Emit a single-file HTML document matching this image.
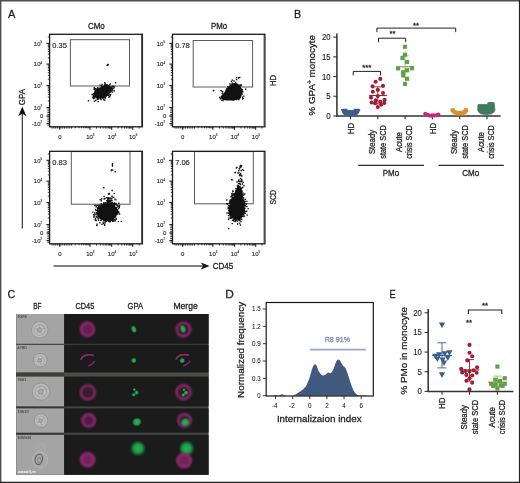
<!DOCTYPE html>
<html><head><meta charset="utf-8"><title>Figure</title>
<style>
html,body{margin:0;padding:0;background:#fff;}
body{width:520px;height:483px;overflow:hidden;}
svg{display:block;font-family:"Liberation Sans",sans-serif;}
text{fill:#231f20;stroke:#231f20;stroke-width:.28px;}
</style></head><body>
<svg width="520" height="483" viewBox="0 0 520 483">
<rect x="0" y="0" width="520" height="483" fill="#fff"/>
<text x="8.0" y="18.1" font-size="11.7" textLength="7.4" lengthAdjust="spacingAndGlyphs">A</text>
<text x="96.3" y="28.7" font-size="8.2" text-anchor="middle" textLength="16.8" lengthAdjust="spacingAndGlyphs">CMo</text>
<text x="219.0" y="28.7" font-size="8.2" text-anchor="middle" textLength="16.2" lengthAdjust="spacingAndGlyphs">PMo</text>
<line x1="46.40" y1="43.30" x2="49.60" y2="43.30" stroke="#111" stroke-width="1"/>
<text x="42.1" y="45.6" font-size="6.0" text-anchor="end" style="stroke-width:.12px">10<tspan font-size="2.9" dy="-2.7">5</tspan></text>
<line x1="46.40" y1="64.10" x2="49.60" y2="64.10" stroke="#111" stroke-width="1"/>
<text x="42.1" y="66.4" font-size="6.0" text-anchor="end" style="stroke-width:.12px">10<tspan font-size="2.9" dy="-2.7">4</tspan></text>
<line x1="46.40" y1="85.60" x2="49.60" y2="85.60" stroke="#111" stroke-width="1"/>
<text x="42.1" y="87.9" font-size="6.0" text-anchor="end" style="stroke-width:.12px">10<tspan font-size="2.9" dy="-2.7">3</tspan></text>
<line x1="46.40" y1="107.60" x2="49.60" y2="107.60" stroke="#111" stroke-width="1"/>
<text x="42.1" y="109.9" font-size="6.0" text-anchor="end" style="stroke-width:.12px">10<tspan font-size="2.9" dy="-2.7">2</tspan></text>
<line x1="46.40" y1="116.00" x2="49.60" y2="116.00" stroke="#111" stroke-width="1"/>
<text x="43.4" y="118.3" font-size="6.0" text-anchor="end" style="stroke-width:.12px">0</text>
<line x1="46.40" y1="123.70" x2="49.60" y2="123.70" stroke="#111" stroke-width="1"/>
<text x="42.1" y="126.0" font-size="6.0" text-anchor="end" style="stroke-width:.12px">-10<tspan font-size="2.9" dy="-2.7">2</tspan></text>
<line x1="59.80" y1="126.80" x2="59.80" y2="129.80" stroke="#111" stroke-width="1"/>
<text x="59.8" y="139.0" font-size="6.0" text-anchor="middle" style="stroke-width:.12px">0</text>
<line x1="90.00" y1="126.80" x2="90.00" y2="129.80" stroke="#111" stroke-width="1"/>
<text x="90.3" y="139.0" font-size="6.0" text-anchor="middle" style="stroke-width:.12px">10<tspan font-size="2.9" dy="-2.7">3</tspan></text>
<line x1="111.70" y1="126.80" x2="111.70" y2="129.80" stroke="#111" stroke-width="1"/>
<text x="112.0" y="139.0" font-size="6.0" text-anchor="middle" style="stroke-width:.12px">10<tspan font-size="2.9" dy="-2.7">4</tspan></text>
<line x1="132.80" y1="126.80" x2="132.80" y2="129.80" stroke="#111" stroke-width="1"/>
<text x="133.1" y="139.0" font-size="6.0" text-anchor="middle" style="stroke-width:.12px">10<tspan font-size="2.9" dy="-2.7">5</tspan></text>
<path d="M47.8 57.84h1.8M47.8 54.18h1.8M47.8 51.58h1.8M47.8 49.56h1.8M47.8 47.91h1.8M47.8 46.52h1.8M47.8 45.32h1.8M47.8 44.25h1.8M47.8 79.13h1.8M47.8 75.34h1.8M47.8 72.66h1.8M47.8 70.57h1.8M47.8 68.87h1.8M47.8 67.43h1.8M47.8 66.18h1.8M47.8 65.08h1.8M47.8 100.98h1.8M47.8 97.10h1.8M47.8 94.35h1.8M47.8 92.22h1.8M47.8 90.48h1.8M47.8 89.01h1.8M47.8 87.73h1.8M47.8 86.61h1.8M47.8 37.04h1.8M47.3 109.00h2.3M47.3 110.80h2.3M47.3 112.60h2.3M47.3 114.40h2.3M47.3 116.20h2.3M47.3 118.00h2.3M47.3 119.80h2.3M47.3 121.60h2.3M47.3 123.40h2.3M47.3 125.20h2.3M96.53 126.8v1.8M100.35 126.8v1.8M103.06 126.8v1.8M105.17 126.8v1.8M106.89 126.8v1.8M108.34 126.8v1.8M109.60 126.8v1.8M110.71 126.8v1.8M118.05 126.8v1.8M121.77 126.8v1.8M124.40 126.8v1.8M126.45 126.8v1.8M128.12 126.8v1.8M129.53 126.8v1.8M130.76 126.8v1.8M131.83 126.8v1.8M139.12 126.8v1.8M52.10 126.8v1.8M53.87 126.8v1.8M55.65 126.8v1.8M57.42 126.8v1.8M59.19 126.8v1.8M60.96 126.8v1.8M62.74 126.8v1.8M64.51 126.8v1.8M66.28 126.8v1.8M68.05 126.8v1.8M69.83 126.8v1.8M71.60 126.8v1.8M75.32 126.8v1.5M79.02 126.8v1.5M81.64 126.8v1.5M83.68 126.8v1.5M85.34 126.8v1.5M86.75 126.8v1.5M87.96 126.8v1.5M89.04 126.8v1.5" stroke="#111" stroke-width="0.8" fill="none"/>
<rect x="70.4" y="39.7" width="59.1" height="46.3" fill="none" stroke="#5a5a5a" stroke-width="1"/>
<rect x="49.6" y="34.3" width="92.8" height="92.5" fill="none" stroke="#1a1a1a" stroke-width="1.3"/>
<line x1="141.70" y1="34.90" x2="141.70" y2="126.20" stroke="#4a4a4a" stroke-width="1.2"/>
<text x="52.300000000000004" y="47.599999999999994" font-size="8.0" textLength="14.6" lengthAdjust="spacingAndGlyphs" style="stroke-width:0.15px">0.35</text>
<ellipse cx="103.3" cy="92.0" rx="9.0" ry="5.0" transform="rotate(-27 103.3 92.0)" fill="#111"/>
<path d="M109.8 94.2h1.35v1.35h-1.35zM96.9 88.3h1.35v1.35h-1.35zM93.8 91.9h1.35v1.35h-1.35zM97.2 88.4h1.35v1.35h-1.35zM97.4 97.6h1.35v1.35h-1.35zM102.3 86.3h1.35v1.35h-1.35zM102.9 96.9h1.35v1.35h-1.35zM107.8 85.0h1.35v1.35h-1.35zM105.2 85.0h1.35v1.35h-1.35zM99.2 87.6h1.35v1.35h-1.35zM94.7 88.1h1.35v1.35h-1.35zM109.4 86.2h1.35v1.35h-1.35zM104.9 96.2h1.35v1.35h-1.35zM99.8 87.7h1.35v1.35h-1.35zM93.6 87.1h1.35v1.35h-1.35zM110.0 93.7h1.35v1.35h-1.35zM110.4 87.2h1.35v1.35h-1.35zM98.6 97.0h1.35v1.35h-1.35zM104.4 82.8h1.35v1.35h-1.35zM111.8 85.7h1.35v1.35h-1.35zM104.1 97.0h1.35v1.35h-1.35zM93.2 92.9h1.35v1.35h-1.35zM98.6 97.1h1.35v1.35h-1.35zM95.6 95.5h1.35v1.35h-1.35zM102.4 85.7h1.35v1.35h-1.35zM111.1 89.5h1.35v1.35h-1.35zM110.7 87.7h1.35v1.35h-1.35zM106.6 94.2h1.35v1.35h-1.35zM108.0 96.4h1.35v1.35h-1.35zM99.7 98.0h1.35v1.35h-1.35zM108.1 85.7h1.35v1.35h-1.35zM92.7 93.5h1.35v1.35h-1.35zM93.5 87.5h1.35v1.35h-1.35zM110.2 90.9h1.35v1.35h-1.35zM109.3 94.6h1.35v1.35h-1.35zM96.8 97.9h1.35v1.35h-1.35zM103.1 85.9h1.35v1.35h-1.35zM110.0 87.2h1.35v1.35h-1.35zM96.0 89.4h1.35v1.35h-1.35zM96.9 97.8h1.35v1.35h-1.35zM105.3 95.2h1.35v1.35h-1.35zM97.0 87.0h1.35v1.35h-1.35zM94.7 90.6h1.35v1.35h-1.35zM114.9 82.1h1.35v1.35h-1.35zM100.4 99.0h1.35v1.35h-1.35zM94.6 92.5h1.35v1.35h-1.35zM95.5 88.3h1.35v1.35h-1.35zM107.0 85.0h1.35v1.35h-1.35zM113.4 85.7h1.35v1.35h-1.35zM112.1 85.6h1.35v1.35h-1.35zM92.8 97.9h1.35v1.35h-1.35zM103.6 84.7h1.35v1.35h-1.35zM105.5 95.4h1.35v1.35h-1.35zM92.4 97.2h1.35v1.35h-1.35zM93.9 97.3h1.35v1.35h-1.35zM106.7 94.5h1.35v1.35h-1.35zM109.4 91.7h1.35v1.35h-1.35zM94.7 96.2h1.35v1.35h-1.35zM98.5 87.6h1.35v1.35h-1.35zM102.1 97.3h1.35v1.35h-1.35zM99.8 97.7h1.35v1.35h-1.35zM93.5 95.5h1.35v1.35h-1.35zM101.0 85.0h1.35v1.35h-1.35zM97.5 88.9h1.35v1.35h-1.35zM104.2 85.6h1.35v1.35h-1.35zM94.7 89.7h1.35v1.35h-1.35zM94.4 90.7h1.35v1.35h-1.35zM111.3 88.5h1.35v1.35h-1.35zM94.9 89.7h1.35v1.35h-1.35zM104.1 82.0h1.35v1.35h-1.35zM106.9 84.2h1.35v1.35h-1.35zM94.7 93.5h1.35v1.35h-1.35zM109.6 83.2h1.35v1.35h-1.35zM107.6 94.7h1.35v1.35h-1.35zM95.0 99.8h1.35v1.35h-1.35zM107.3 85.6h1.35v1.35h-1.35zM95.6 92.0h1.35v1.35h-1.35zM98.1 97.0h1.35v1.35h-1.35zM96.1 90.3h1.35v1.35h-1.35zM94.6 95.0h1.35v1.35h-1.35zM97.2 89.8h1.35v1.35h-1.35zM95.8 89.7h1.35v1.35h-1.35zM109.3 94.2h1.35v1.35h-1.35zM101.4 83.7h1.35v1.35h-1.35zM105.9 94.7h1.35v1.35h-1.35zM107.2 84.8h1.35v1.35h-1.35zM100.3 97.3h1.35v1.35h-1.35zM95.1 95.6h1.35v1.35h-1.35zM108.1 93.1h1.35v1.35h-1.35zM94.3 90.6h1.35v1.35h-1.35zM95.1 93.3h1.35v1.35h-1.35zM91.4 93.8h1.35v1.35h-1.35zM112.2 89.2h1.35v1.35h-1.35zM111.7 91.4h1.35v1.35h-1.35zM97.9 96.8h1.35v1.35h-1.35zM104.7 97.3h1.35v1.35h-1.35zM111.2 87.5h1.35v1.35h-1.35zM93.9 93.7h1.35v1.35h-1.35zM112.0 87.4h1.35v1.35h-1.35zM92.8 95.1h1.35v1.35h-1.35zM94.3 96.6h1.35v1.35h-1.35zM96.4 89.5h1.35v1.35h-1.35zM96.4 90.3h1.35v1.35h-1.35zM95.1 94.3h1.35v1.35h-1.35zM106.2 85.8h1.35v1.35h-1.35zM101.3 97.1h1.35v1.35h-1.35zM106.4 84.4h1.35v1.35h-1.35zM113.5 90.5h1.35v1.35h-1.35zM109.8 86.6h1.35v1.35h-1.35zM111.2 89.5h1.35v1.35h-1.35zM98.9 97.3h1.35v1.35h-1.35zM102.0 86.1h1.35v1.35h-1.35zM94.5 92.2h1.35v1.35h-1.35zM102.9 98.8h1.35v1.35h-1.35zM96.4 96.4h1.35v1.35h-1.35zM105.4 84.3h1.35v1.35h-1.35zM94.9 94.7h1.35v1.35h-1.35zM113.6 90.2h1.35v1.35h-1.35zM95.2 90.5h1.35v1.35h-1.35zM105.3 85.6h1.35v1.35h-1.35zM109.1 84.2h1.35v1.35h-1.35zM94.8 95.6h1.35v1.35h-1.35zM99.8 98.3h1.35v1.35h-1.35zM92.2 96.6h1.35v1.35h-1.35zM110.1 86.4h1.35v1.35h-1.35zM109.1 96.1h1.35v1.35h-1.35zM103.9 85.0h1.35v1.35h-1.35zM112.7 87.4h1.35v1.35h-1.35zM111.1 90.0h1.35v1.35h-1.35zM107.6 85.7h1.35v1.35h-1.35zM96.3 90.3h1.35v1.35h-1.35zM97.7 97.8h1.35v1.35h-1.35zM97.1 96.7h1.35v1.35h-1.35zM96.8 89.3h1.35v1.35h-1.35zM101.3 86.5h1.35v1.35h-1.35zM111.5 89.1h1.35v1.35h-1.35zM102.3 96.9h1.35v1.35h-1.35zM100.8 85.5h1.35v1.35h-1.35zM106.2 85.4h1.35v1.35h-1.35zM94.3 94.3h1.35v1.35h-1.35zM110.5 87.1h1.35v1.35h-1.35zM111.5 85.9h1.35v1.35h-1.35zM93.3 95.8h1.35v1.35h-1.35zM87.8 100.1h1.35v1.35h-1.35zM96.1 96.3h1.35v1.35h-1.35zM94.0 96.1h1.35v1.35h-1.35zM104.0 99.3h1.35v1.35h-1.35zM97.3 98.5h1.35v1.35h-1.35zM113.5 87.1h1.35v1.35h-1.35zM100.6 86.8h1.35v1.35h-1.35zM97.4 101.0h1.35v1.35h-1.35zM102.1 85.7h1.35v1.35h-1.35zM105.3 95.1h1.35v1.35h-1.35zM95.1 95.1h1.35v1.35h-1.35zM93.7 100.5h1.35v1.35h-1.35zM106.3 84.2h1.35v1.35h-1.35zM92.3 96.7h1.35v1.35h-1.35zM99.9 98.4h1.35v1.35h-1.35zM96.6 98.9h1.35v1.35h-1.35zM100.4 96.7h1.35v1.35h-1.35zM95.0 95.8h1.35v1.35h-1.35zM99.4 84.5h1.35v1.35h-1.35zM96.0 96.9h1.35v1.35h-1.35zM104.2 84.0h1.35v1.35h-1.35zM103.8 99.4h1.35v1.35h-1.35zM108.3 93.3h1.35v1.35h-1.35zM93.5 88.6h1.35v1.35h-1.35zM103.5 85.9h1.35v1.35h-1.35zM109.5 91.6h1.35v1.35h-1.35zM106.5 64.6h1.35v1.35h-1.35zM107.3 64.1h1.35v1.35h-1.35zM106.9 64.3h1.35v1.35h-1.35zM107.6 63.8h1.35v1.35h-1.35z" fill="#111"/>
<line x1="169.30" y1="43.30" x2="172.50" y2="43.30" stroke="#111" stroke-width="1"/>
<text x="165.0" y="45.6" font-size="6.0" text-anchor="end" style="stroke-width:.12px">10<tspan font-size="2.9" dy="-2.7">5</tspan></text>
<line x1="169.30" y1="64.10" x2="172.50" y2="64.10" stroke="#111" stroke-width="1"/>
<text x="165.0" y="66.4" font-size="6.0" text-anchor="end" style="stroke-width:.12px">10<tspan font-size="2.9" dy="-2.7">4</tspan></text>
<line x1="169.30" y1="85.60" x2="172.50" y2="85.60" stroke="#111" stroke-width="1"/>
<text x="165.0" y="87.9" font-size="6.0" text-anchor="end" style="stroke-width:.12px">10<tspan font-size="2.9" dy="-2.7">3</tspan></text>
<line x1="169.30" y1="107.60" x2="172.50" y2="107.60" stroke="#111" stroke-width="1"/>
<text x="165.0" y="109.9" font-size="6.0" text-anchor="end" style="stroke-width:.12px">10<tspan font-size="2.9" dy="-2.7">2</tspan></text>
<line x1="169.30" y1="116.00" x2="172.50" y2="116.00" stroke="#111" stroke-width="1"/>
<text x="166.3" y="118.3" font-size="6.0" text-anchor="end" style="stroke-width:.12px">0</text>
<line x1="169.30" y1="123.70" x2="172.50" y2="123.70" stroke="#111" stroke-width="1"/>
<text x="165.0" y="126.0" font-size="6.0" text-anchor="end" style="stroke-width:.12px">-10<tspan font-size="2.9" dy="-2.7">2</tspan></text>
<line x1="182.70" y1="126.80" x2="182.70" y2="129.80" stroke="#111" stroke-width="1"/>
<text x="182.7" y="139.0" font-size="6.0" text-anchor="middle" style="stroke-width:.12px">0</text>
<line x1="212.90" y1="126.80" x2="212.90" y2="129.80" stroke="#111" stroke-width="1"/>
<text x="213.2" y="139.0" font-size="6.0" text-anchor="middle" style="stroke-width:.12px">10<tspan font-size="2.9" dy="-2.7">3</tspan></text>
<line x1="234.60" y1="126.80" x2="234.60" y2="129.80" stroke="#111" stroke-width="1"/>
<text x="234.9" y="139.0" font-size="6.0" text-anchor="middle" style="stroke-width:.12px">10<tspan font-size="2.9" dy="-2.7">4</tspan></text>
<line x1="255.70" y1="126.80" x2="255.70" y2="129.80" stroke="#111" stroke-width="1"/>
<text x="256.0" y="139.0" font-size="6.0" text-anchor="middle" style="stroke-width:.12px">10<tspan font-size="2.9" dy="-2.7">5</tspan></text>
<path d="M170.7 57.84h1.8M170.7 54.18h1.8M170.7 51.58h1.8M170.7 49.56h1.8M170.7 47.91h1.8M170.7 46.52h1.8M170.7 45.32h1.8M170.7 44.25h1.8M170.7 79.13h1.8M170.7 75.34h1.8M170.7 72.66h1.8M170.7 70.57h1.8M170.7 68.87h1.8M170.7 67.43h1.8M170.7 66.18h1.8M170.7 65.08h1.8M170.7 100.98h1.8M170.7 97.10h1.8M170.7 94.35h1.8M170.7 92.22h1.8M170.7 90.48h1.8M170.7 89.01h1.8M170.7 87.73h1.8M170.7 86.61h1.8M170.7 37.04h1.8M170.2 109.00h2.3M170.2 110.80h2.3M170.2 112.60h2.3M170.2 114.40h2.3M170.2 116.20h2.3M170.2 118.00h2.3M170.2 119.80h2.3M170.2 121.60h2.3M170.2 123.40h2.3M170.2 125.20h2.3M219.43 126.8v1.8M223.25 126.8v1.8M225.96 126.8v1.8M228.07 126.8v1.8M229.79 126.8v1.8M231.24 126.8v1.8M232.50 126.8v1.8M233.61 126.8v1.8M240.95 126.8v1.8M244.67 126.8v1.8M247.30 126.8v1.8M249.35 126.8v1.8M251.02 126.8v1.8M252.43 126.8v1.8M253.66 126.8v1.8M254.73 126.8v1.8M262.02 126.8v1.8M175.00 126.8v1.8M176.77 126.8v1.8M178.55 126.8v1.8M180.32 126.8v1.8M182.09 126.8v1.8M183.86 126.8v1.8M185.64 126.8v1.8M187.41 126.8v1.8M189.18 126.8v1.8M190.95 126.8v1.8M192.73 126.8v1.8M194.50 126.8v1.8M198.22 126.8v1.5M201.92 126.8v1.5M204.54 126.8v1.5M206.58 126.8v1.5M208.24 126.8v1.5M209.65 126.8v1.5M210.86 126.8v1.5M211.94 126.8v1.5" stroke="#111" stroke-width="0.8" fill="none"/>
<rect x="193.2" y="40.5" width="59.4" height="46.5" fill="none" stroke="#5a5a5a" stroke-width="1"/>
<rect x="172.5" y="34.3" width="92.4" height="92.5" fill="none" stroke="#1a1a1a" stroke-width="1.3"/>
<line x1="264.20" y1="34.90" x2="264.20" y2="126.20" stroke="#4a4a4a" stroke-width="1.2"/>
<text x="175.2" y="47.599999999999994" font-size="8.0" textLength="14.6" lengthAdjust="spacingAndGlyphs" style="stroke-width:0.15px">0.78</text>
<path d="M220.2 96.9C221 98.6 222.6 99.9 224.6 100.2C228 100.8 234 100.6 237.6 99.6C240.4 98.8 241.9 96.6 242 93.6C242.1 90.2 241.2 86.8 239 84.6C237.2 82.8 234.6 82.4 232.4 83.6C229.4 85.2 227 88.4 225 91.4C223.6 93.4 221.4 95.2 220.2 96.9Z" fill="#111"/>
<ellipse cx="234.4" cy="92.6" rx="5.4" ry="6.0" transform="rotate(-30 234.4 92.6)" fill="#111"/>
<path d="M234.3 88.9h1.35v1.35h-1.35zM241.8 91.3h1.35v1.35h-1.35zM230.8 94.1h1.35v1.35h-1.35zM230.6 94.0h1.35v1.35h-1.35zM235.1 91.1h1.35v1.35h-1.35zM235.8 84.9h1.35v1.35h-1.35zM233.1 90.5h1.35v1.35h-1.35zM234.3 87.1h1.35v1.35h-1.35zM227.1 85.9h1.35v1.35h-1.35zM231.5 84.6h1.35v1.35h-1.35zM232.8 94.4h1.35v1.35h-1.35zM233.7 88.5h1.35v1.35h-1.35zM233.7 90.0h1.35v1.35h-1.35zM230.8 86.5h1.35v1.35h-1.35zM235.2 86.6h1.35v1.35h-1.35zM237.4 90.8h1.35v1.35h-1.35zM231.6 92.7h1.35v1.35h-1.35zM234.1 87.9h1.35v1.35h-1.35zM231.8 98.7h1.35v1.35h-1.35zM235.4 88.8h1.35v1.35h-1.35zM239.4 84.2h1.35v1.35h-1.35zM236.8 92.9h1.35v1.35h-1.35zM230.6 85.6h1.35v1.35h-1.35zM234.3 92.4h1.35v1.35h-1.35zM232.8 86.4h1.35v1.35h-1.35zM230.1 90.1h1.35v1.35h-1.35zM233.3 87.9h1.35v1.35h-1.35zM232.6 92.0h1.35v1.35h-1.35zM232.1 92.3h1.35v1.35h-1.35zM234.0 91.6h1.35v1.35h-1.35zM233.3 91.7h1.35v1.35h-1.35zM231.5 98.4h1.35v1.35h-1.35zM242.0 90.8h1.35v1.35h-1.35zM234.9 92.5h1.35v1.35h-1.35zM230.2 96.7h1.35v1.35h-1.35zM235.0 87.7h1.35v1.35h-1.35zM230.6 88.3h1.35v1.35h-1.35zM234.8 92.1h1.35v1.35h-1.35zM235.0 89.6h1.35v1.35h-1.35zM232.5 95.2h1.35v1.35h-1.35zM221.5 92.8h1.35v1.35h-1.35zM238.5 98.1h1.35v1.35h-1.35zM231.0 87.3h1.35v1.35h-1.35zM235.7 88.9h1.35v1.35h-1.35zM233.2 95.2h1.35v1.35h-1.35zM229.4 88.1h1.35v1.35h-1.35zM232.9 88.8h1.35v1.35h-1.35zM227.9 86.6h1.35v1.35h-1.35zM229.3 87.9h1.35v1.35h-1.35zM229.6 85.5h1.35v1.35h-1.35zM230.7 93.5h1.35v1.35h-1.35zM237.8 88.3h1.35v1.35h-1.35zM230.0 92.3h1.35v1.35h-1.35zM235.8 94.2h1.35v1.35h-1.35zM235.2 95.3h1.35v1.35h-1.35zM231.2 92.6h1.35v1.35h-1.35zM234.0 89.3h1.35v1.35h-1.35zM235.1 88.1h1.35v1.35h-1.35zM235.9 86.7h1.35v1.35h-1.35zM237.3 93.1h1.35v1.35h-1.35zM232.4 92.6h1.35v1.35h-1.35zM234.6 88.3h1.35v1.35h-1.35zM228.8 93.6h1.35v1.35h-1.35zM234.3 92.3h1.35v1.35h-1.35zM233.5 88.9h1.35v1.35h-1.35zM235.2 90.6h1.35v1.35h-1.35zM230.0 93.5h1.35v1.35h-1.35zM232.0 97.8h1.35v1.35h-1.35zM239.8 90.4h1.35v1.35h-1.35zM228.7 88.6h1.35v1.35h-1.35zM228.4 94.3h1.35v1.35h-1.35zM231.3 95.6h1.35v1.35h-1.35zM232.1 89.9h1.35v1.35h-1.35zM237.8 90.6h1.35v1.35h-1.35zM233.7 92.0h1.35v1.35h-1.35zM237.4 90.0h1.35v1.35h-1.35zM233.4 90.5h1.35v1.35h-1.35zM234.9 90.9h1.35v1.35h-1.35zM236.7 90.3h1.35v1.35h-1.35zM228.9 88.2h1.35v1.35h-1.35zM231.8 88.1h1.35v1.35h-1.35zM229.8 89.4h1.35v1.35h-1.35zM234.9 96.8h1.35v1.35h-1.35zM235.3 90.5h1.35v1.35h-1.35zM231.6 93.9h1.35v1.35h-1.35zM233.5 91.4h1.35v1.35h-1.35zM229.8 91.6h1.35v1.35h-1.35zM231.1 89.4h1.35v1.35h-1.35zM233.4 94.5h1.35v1.35h-1.35zM235.0 87.8h1.35v1.35h-1.35zM236.5 95.0h1.35v1.35h-1.35zM233.6 91.5h1.35v1.35h-1.35zM237.4 87.8h1.35v1.35h-1.35zM224.9 96.9h1.35v1.35h-1.35zM229.8 93.4h1.35v1.35h-1.35zM225.8 97.3h1.35v1.35h-1.35zM236.1 95.1h1.35v1.35h-1.35zM239.0 96.2h1.35v1.35h-1.35zM232.1 86.9h1.35v1.35h-1.35zM234.1 91.3h1.35v1.35h-1.35zM232.1 94.9h1.35v1.35h-1.35zM235.5 85.1h1.35v1.35h-1.35zM232.3 89.0h1.35v1.35h-1.35zM231.2 90.6h1.35v1.35h-1.35zM235.3 92.0h1.35v1.35h-1.35zM231.5 92.2h1.35v1.35h-1.35zM231.5 92.0h1.35v1.35h-1.35zM233.6 91.0h1.35v1.35h-1.35zM233.9 91.4h1.35v1.35h-1.35zM235.6 98.9h1.35v1.35h-1.35zM236.5 89.0h1.35v1.35h-1.35zM232.0 95.6h1.35v1.35h-1.35zM228.8 92.4h1.35v1.35h-1.35zM234.4 91.5h1.35v1.35h-1.35zM232.5 90.2h1.35v1.35h-1.35zM232.7 90.8h1.35v1.35h-1.35zM229.8 89.9h1.35v1.35h-1.35zM231.2 89.1h1.35v1.35h-1.35zM232.3 93.7h1.35v1.35h-1.35zM230.1 96.8h1.35v1.35h-1.35zM235.7 90.9h1.35v1.35h-1.35zM228.7 91.8h1.35v1.35h-1.35zM232.9 92.6h1.35v1.35h-1.35zM229.3 83.3h1.35v1.35h-1.35zM234.9 93.7h1.35v1.35h-1.35zM239.9 85.2h1.35v1.35h-1.35zM229.7 95.1h1.35v1.35h-1.35zM233.3 95.9h1.35v1.35h-1.35zM232.1 90.1h1.35v1.35h-1.35zM238.4 90.8h1.35v1.35h-1.35zM231.2 90.8h1.35v1.35h-1.35zM230.2 95.8h1.35v1.35h-1.35zM234.9 87.8h1.35v1.35h-1.35zM231.1 94.1h1.35v1.35h-1.35zM235.4 95.5h1.35v1.35h-1.35zM233.7 87.8h1.35v1.35h-1.35zM229.8 91.3h1.35v1.35h-1.35zM230.9 91.5h1.35v1.35h-1.35zM234.7 91.1h1.35v1.35h-1.35zM238.1 98.8h1.35v1.35h-1.35zM232.3 89.3h1.35v1.35h-1.35zM226.0 88.3h1.35v1.35h-1.35zM231.1 90.0h1.35v1.35h-1.35zM226.6 89.7h1.35v1.35h-1.35zM227.6 93.4h1.35v1.35h-1.35zM237.4 87.6h1.35v1.35h-1.35zM231.9 88.0h1.35v1.35h-1.35zM233.7 87.6h1.35v1.35h-1.35zM226.3 88.8h1.35v1.35h-1.35zM233.1 91.9h1.35v1.35h-1.35zM230.7 89.9h1.35v1.35h-1.35zM231.4 97.2h1.35v1.35h-1.35zM236.5 92.9h1.35v1.35h-1.35zM229.1 90.8h1.35v1.35h-1.35zM231.5 90.9h1.35v1.35h-1.35zM229.0 94.8h1.35v1.35h-1.35zM237.0 91.1h1.35v1.35h-1.35zM231.2 85.5h1.35v1.35h-1.35zM233.7 90.4h1.35v1.35h-1.35zM234.4 98.1h1.35v1.35h-1.35zM231.2 92.4h1.35v1.35h-1.35zM236.5 89.3h1.35v1.35h-1.35zM232.1 92.0h1.35v1.35h-1.35zM231.0 87.8h1.35v1.35h-1.35zM235.2 93.5h1.35v1.35h-1.35zM230.5 94.5h1.35v1.35h-1.35zM237.1 88.5h1.35v1.35h-1.35zM229.2 97.6h1.35v1.35h-1.35zM235.1 92.9h1.35v1.35h-1.35zM228.6 86.8h1.35v1.35h-1.35zM229.6 96.2h1.35v1.35h-1.35zM232.4 89.2h1.35v1.35h-1.35zM234.5 90.7h1.35v1.35h-1.35zM231.4 89.5h1.35v1.35h-1.35zM228.8 91.0h1.35v1.35h-1.35zM236.0 92.9h1.35v1.35h-1.35zM235.7 89.0h1.35v1.35h-1.35zM232.8 90.2h1.35v1.35h-1.35zM236.7 86.9h1.35v1.35h-1.35zM235.2 89.8h1.35v1.35h-1.35zM234.8 89.7h1.35v1.35h-1.35zM231.4 82.4h1.35v1.35h-1.35zM229.3 90.7h1.35v1.35h-1.35zM231.0 92.0h1.35v1.35h-1.35zM235.8 92.2h1.35v1.35h-1.35zM237.1 93.8h1.35v1.35h-1.35zM234.8 85.8h1.35v1.35h-1.35zM240.0 93.9h1.35v1.35h-1.35zM233.5 91.3h1.35v1.35h-1.35zM234.5 92.2h1.35v1.35h-1.35zM231.0 90.7h1.35v1.35h-1.35zM230.7 90.7h1.35v1.35h-1.35zM234.8 96.1h1.35v1.35h-1.35zM234.8 88.9h1.35v1.35h-1.35zM231.5 92.2h1.35v1.35h-1.35zM234.5 95.2h1.35v1.35h-1.35zM237.0 95.5h1.35v1.35h-1.35zM228.4 88.8h1.35v1.35h-1.35zM231.9 91.5h1.35v1.35h-1.35zM227.2 96.2h1.35v1.35h-1.35zM237.8 95.3h1.35v1.35h-1.35zM237.4 98.4h1.35v1.35h-1.35zM233.4 90.9h1.35v1.35h-1.35zM234.7 91.6h1.35v1.35h-1.35zM230.0 97.7h1.35v1.35h-1.35zM241.7 89.1h1.35v1.35h-1.35zM232.8 90.3h1.35v1.35h-1.35zM235.3 93.2h1.35v1.35h-1.35zM226.9 93.6h1.35v1.35h-1.35zM231.3 87.0h1.35v1.35h-1.35zM232.7 92.7h1.35v1.35h-1.35zM235.5 92.8h1.35v1.35h-1.35zM231.8 82.8h1.35v1.35h-1.35zM228.5 87.5h1.35v1.35h-1.35zM230.8 93.2h1.35v1.35h-1.35zM235.2 92.1h1.35v1.35h-1.35zM235.1 94.3h1.35v1.35h-1.35zM235.4 92.9h1.35v1.35h-1.35zM232.5 91.2h1.35v1.35h-1.35zM237.1 94.3h1.35v1.35h-1.35zM232.9 92.9h1.35v1.35h-1.35zM233.4 90.2h1.35v1.35h-1.35zM234.0 91.3h1.35v1.35h-1.35zM233.7 95.1h1.35v1.35h-1.35zM233.1 92.4h1.35v1.35h-1.35zM234.3 90.8h1.35v1.35h-1.35zM231.3 86.9h1.35v1.35h-1.35zM235.9 91.3h1.35v1.35h-1.35zM235.5 89.7h1.35v1.35h-1.35zM237.9 95.5h1.35v1.35h-1.35zM234.7 90.2h1.35v1.35h-1.35zM232.2 92.0h1.35v1.35h-1.35zM231.4 90.4h1.35v1.35h-1.35zM237.6 91.0h1.35v1.35h-1.35zM227.8 95.2h1.35v1.35h-1.35zM232.8 88.8h1.35v1.35h-1.35zM245.0 88.6h1.35v1.35h-1.35zM236.3 87.0h1.35v1.35h-1.35zM226.6 92.7h1.35v1.35h-1.35zM236.6 93.5h1.35v1.35h-1.35zM235.7 85.8h1.35v1.35h-1.35zM243.2 95.4h1.35v1.35h-1.35zM230.6 93.1h1.35v1.35h-1.35zM231.9 96.8h1.35v1.35h-1.35zM226.7 91.4h1.35v1.35h-1.35zM235.0 89.9h1.35v1.35h-1.35zM234.5 95.2h1.35v1.35h-1.35zM234.2 92.7h1.35v1.35h-1.35zM232.7 89.6h1.35v1.35h-1.35zM239.5 96.9h1.35v1.35h-1.35zM236.2 92.3h1.35v1.35h-1.35zM233.0 90.7h1.35v1.35h-1.35zM227.7 93.6h1.35v1.35h-1.35zM236.4 87.7h1.35v1.35h-1.35zM234.7 86.9h1.35v1.35h-1.35zM231.7 93.0h1.35v1.35h-1.35zM230.9 90.0h1.35v1.35h-1.35zM234.5 95.9h1.35v1.35h-1.35zM231.9 92.0h1.35v1.35h-1.35zM234.9 93.9h1.35v1.35h-1.35zM233.6 93.7h1.35v1.35h-1.35zM229.1 92.6h1.35v1.35h-1.35zM236.9 91.6h1.35v1.35h-1.35zM233.6 95.3h1.35v1.35h-1.35zM234.2 85.8h1.35v1.35h-1.35zM234.3 93.8h1.35v1.35h-1.35zM233.7 89.9h1.35v1.35h-1.35zM236.8 91.3h1.35v1.35h-1.35zM227.9 90.3h1.35v1.35h-1.35zM233.4 93.4h1.35v1.35h-1.35zM235.6 87.0h1.35v1.35h-1.35zM232.2 95.8h1.35v1.35h-1.35zM230.8 93.4h1.35v1.35h-1.35zM231.1 88.3h1.35v1.35h-1.35zM232.3 97.1h1.35v1.35h-1.35zM226.3 96.5h1.35v1.35h-1.35zM226.6 92.7h1.35v1.35h-1.35zM234.3 91.0h1.35v1.35h-1.35zM232.8 87.7h1.35v1.35h-1.35zM235.5 91.4h1.35v1.35h-1.35zM234.0 90.6h1.35v1.35h-1.35zM229.1 93.4h1.35v1.35h-1.35zM236.3 91.9h1.35v1.35h-1.35zM233.4 85.9h1.35v1.35h-1.35zM233.4 95.6h1.35v1.35h-1.35zM231.3 84.5h1.35v1.35h-1.35zM235.6 96.5h1.35v1.35h-1.35zM234.0 91.7h1.35v1.35h-1.35zM233.5 90.2h1.35v1.35h-1.35zM227.7 93.0h1.35v1.35h-1.35zM238.1 89.8h1.35v1.35h-1.35zM230.6 93.1h1.35v1.35h-1.35zM232.5 91.4h1.35v1.35h-1.35zM234.1 95.3h1.35v1.35h-1.35zM233.4 89.5h1.35v1.35h-1.35zM233.8 90.1h1.35v1.35h-1.35zM234.1 92.7h1.35v1.35h-1.35zM239.1 91.3h1.35v1.35h-1.35zM233.6 90.6h1.35v1.35h-1.35zM232.5 92.9h1.35v1.35h-1.35zM225.8 98.0h1.35v1.35h-1.35zM234.0 94.1h1.35v1.35h-1.35zM235.6 96.1h1.35v1.35h-1.35zM228.9 91.1h1.35v1.35h-1.35zM230.6 93.2h1.35v1.35h-1.35zM234.6 90.2h1.35v1.35h-1.35zM237.1 90.9h1.35v1.35h-1.35zM241.3 91.3h1.35v1.35h-1.35zM236.1 89.1h1.35v1.35h-1.35zM231.8 93.7h1.35v1.35h-1.35zM236.3 94.0h1.35v1.35h-1.35zM226.9 91.4h1.35v1.35h-1.35zM233.4 88.1h1.35v1.35h-1.35zM233.1 89.7h1.35v1.35h-1.35zM231.6 92.9h1.35v1.35h-1.35zM233.4 92.4h1.35v1.35h-1.35zM231.4 90.8h1.35v1.35h-1.35zM235.3 97.5h1.35v1.35h-1.35zM235.1 86.9h1.35v1.35h-1.35zM240.8 84.3h1.35v1.35h-1.35zM237.6 92.6h1.35v1.35h-1.35zM237.6 91.3h1.35v1.35h-1.35zM233.5 91.2h1.35v1.35h-1.35zM233.1 93.3h1.35v1.35h-1.35zM240.6 88.9h1.35v1.35h-1.35zM232.2 92.4h1.35v1.35h-1.35zM235.6 92.4h1.35v1.35h-1.35zM230.9 89.5h1.35v1.35h-1.35zM234.8 90.5h1.35v1.35h-1.35zM229.5 87.5h1.35v1.35h-1.35zM232.8 88.0h1.35v1.35h-1.35zM227.4 91.4h1.35v1.35h-1.35zM235.6 95.0h1.35v1.35h-1.35zM235.7 87.4h1.35v1.35h-1.35zM231.1 94.6h1.35v1.35h-1.35zM229.4 90.7h1.35v1.35h-1.35zM236.3 88.1h1.35v1.35h-1.35zM233.6 90.0h1.35v1.35h-1.35zM234.1 87.0h1.35v1.35h-1.35zM229.1 98.7h1.35v1.35h-1.35zM229.9 87.0h1.35v1.35h-1.35zM231.1 96.0h1.35v1.35h-1.35zM232.4 88.6h1.35v1.35h-1.35zM236.3 89.1h1.35v1.35h-1.35zM225.8 90.8h1.35v1.35h-1.35zM230.2 93.9h1.35v1.35h-1.35zM227.8 88.4h1.35v1.35h-1.35zM234.1 93.4h1.35v1.35h-1.35zM228.5 93.2h1.35v1.35h-1.35zM235.0 81.8h1.35v1.35h-1.35zM231.8 86.9h1.35v1.35h-1.35zM228.7 88.2h1.35v1.35h-1.35zM231.1 91.9h1.35v1.35h-1.35zM240.9 88.6h1.35v1.35h-1.35zM238.0 85.6h1.35v1.35h-1.35zM229.2 89.5h1.35v1.35h-1.35zM232.1 88.6h1.35v1.35h-1.35zM236.5 89.0h1.35v1.35h-1.35zM232.7 94.2h1.35v1.35h-1.35zM237.4 89.5h1.35v1.35h-1.35zM234.4 95.4h1.35v1.35h-1.35zM225.9 90.2h1.35v1.35h-1.35zM230.5 92.5h1.35v1.35h-1.35zM237.3 92.9h1.35v1.35h-1.35zM227.2 89.0h1.35v1.35h-1.35zM225.5 89.5h1.35v1.35h-1.35zM228.8 89.9h1.35v1.35h-1.35zM235.2 84.7h1.35v1.35h-1.35zM233.0 90.7h1.35v1.35h-1.35zM230.3 91.3h1.35v1.35h-1.35zM232.2 89.8h1.35v1.35h-1.35zM233.0 89.2h1.35v1.35h-1.35zM232.8 90.7h1.35v1.35h-1.35zM226.3 93.2h1.35v1.35h-1.35zM234.3 91.6h1.35v1.35h-1.35zM232.3 91.9h1.35v1.35h-1.35zM232.9 86.9h1.35v1.35h-1.35zM233.2 99.1h1.35v1.35h-1.35zM232.8 85.8h1.35v1.35h-1.35zM233.1 94.4h1.35v1.35h-1.35zM226.8 93.2h1.35v1.35h-1.35zM237.1 89.4h1.35v1.35h-1.35zM232.6 93.9h1.35v1.35h-1.35zM235.7 92.8h1.35v1.35h-1.35zM235.5 95.5h1.35v1.35h-1.35zM233.9 86.9h1.35v1.35h-1.35zM241.9 96.4h1.35v1.35h-1.35zM236.7 90.0h1.35v1.35h-1.35zM233.0 87.8h1.35v1.35h-1.35zM225.7 91.5h1.35v1.35h-1.35zM237.0 95.3h1.35v1.35h-1.35zM230.3 93.5h1.35v1.35h-1.35zM235.7 92.4h1.35v1.35h-1.35zM236.2 94.5h1.35v1.35h-1.35zM229.4 94.9h1.35v1.35h-1.35zM229.2 92.7h1.35v1.35h-1.35zM229.8 93.9h1.35v1.35h-1.35zM232.4 95.6h1.35v1.35h-1.35zM232.4 92.0h1.35v1.35h-1.35zM232.0 86.8h1.35v1.35h-1.35zM238.0 90.5h1.35v1.35h-1.35zM226.6 89.2h1.35v1.35h-1.35zM229.8 90.8h1.35v1.35h-1.35zM239.7 91.3h1.35v1.35h-1.35zM235.7 90.2h1.35v1.35h-1.35zM234.0 91.6h1.35v1.35h-1.35zM226.9 97.0h1.35v1.35h-1.35zM232.5 96.4h1.35v1.35h-1.35zM233.2 91.0h1.35v1.35h-1.35zM227.1 87.8h1.35v1.35h-1.35zM238.6 87.8h1.35v1.35h-1.35zM229.2 85.6h1.35v1.35h-1.35zM233.4 98.0h1.35v1.35h-1.35zM232.4 96.5h1.35v1.35h-1.35zM230.1 91.8h1.35v1.35h-1.35zM231.1 92.7h1.35v1.35h-1.35zM232.4 92.3h1.35v1.35h-1.35zM236.0 93.3h1.35v1.35h-1.35zM231.8 89.0h1.35v1.35h-1.35zM233.6 87.0h1.35v1.35h-1.35zM227.9 92.9h1.35v1.35h-1.35zM233.7 91.4h1.35v1.35h-1.35zM234.1 91.7h1.35v1.35h-1.35zM236.2 87.0h1.35v1.35h-1.35zM233.9 94.0h1.35v1.35h-1.35zM231.5 88.2h1.35v1.35h-1.35zM230.6 93.1h1.35v1.35h-1.35zM232.5 88.8h1.35v1.35h-1.35zM231.7 88.0h1.35v1.35h-1.35zM233.9 96.1h1.35v1.35h-1.35zM231.0 91.7h1.35v1.35h-1.35zM230.6 89.0h1.35v1.35h-1.35zM234.5 90.3h1.35v1.35h-1.35zM227.7 91.5h1.35v1.35h-1.35zM236.5 91.1h1.35v1.35h-1.35zM233.8 94.4h1.35v1.35h-1.35zM240.1 90.0h1.35v1.35h-1.35zM234.4 85.6h1.35v1.35h-1.35zM231.5 92.0h1.35v1.35h-1.35zM235.2 97.7h1.35v1.35h-1.35zM238.9 85.5h1.35v1.35h-1.35zM237.3 93.4h1.35v1.35h-1.35zM237.7 94.2h1.35v1.35h-1.35zM228.8 88.9h1.35v1.35h-1.35zM235.2 94.9h1.35v1.35h-1.35zM236.6 91.7h1.35v1.35h-1.35zM236.4 92.4h1.35v1.35h-1.35zM234.4 97.7h1.35v1.35h-1.35zM237.1 90.0h1.35v1.35h-1.35zM233.9 91.0h1.35v1.35h-1.35zM231.7 95.2h1.35v1.35h-1.35zM234.8 88.4h1.35v1.35h-1.35zM233.5 93.2h1.35v1.35h-1.35zM230.6 84.6h1.35v1.35h-1.35zM235.2 97.2h1.35v1.35h-1.35zM232.7 89.3h1.35v1.35h-1.35zM229.8 96.5h1.35v1.35h-1.35zM234.5 91.5h1.35v1.35h-1.35zM229.1 95.1h1.35v1.35h-1.35zM233.6 91.4h1.35v1.35h-1.35zM226.3 97.3h1.35v1.35h-1.35zM229.2 87.4h1.35v1.35h-1.35zM233.6 88.5h1.35v1.35h-1.35zM236.7 93.5h1.35v1.35h-1.35zM233.8 86.2h1.35v1.35h-1.35zM227.8 91.2h1.35v1.35h-1.35zM241.6 93.5h1.35v1.35h-1.35zM239.7 91.1h1.35v1.35h-1.35zM233.1 98.2h1.35v1.35h-1.35zM230.8 93.2h1.35v1.35h-1.35zM232.0 93.5h1.35v1.35h-1.35zM234.5 93.5h1.35v1.35h-1.35zM234.6 92.6h1.35v1.35h-1.35zM226.2 96.7h1.35v1.35h-1.35zM231.3 86.4h1.35v1.35h-1.35zM230.6 90.2h1.35v1.35h-1.35zM226.9 89.9h1.35v1.35h-1.35zM238.8 93.5h1.35v1.35h-1.35zM231.1 91.2h1.35v1.35h-1.35zM235.4 88.5h1.35v1.35h-1.35zM234.9 91.0h1.35v1.35h-1.35zM232.0 92.2h1.35v1.35h-1.35zM237.1 90.3h1.35v1.35h-1.35zM233.6 88.1h1.35v1.35h-1.35zM228.2 88.7h1.35v1.35h-1.35zM232.4 99.5h1.35v1.35h-1.35zM229.8 90.8h1.35v1.35h-1.35zM233.4 88.9h1.35v1.35h-1.35zM213.1 89.7h1.35v1.35h-1.35zM212.7 90.1h1.35v1.35h-1.35zM237.9 77.3h1.35v1.35h-1.35zM238.3 76.9h1.35v1.35h-1.35zM233.3 80.3h1.35v1.35h-1.35zM235.8 78.8h1.35v1.35h-1.35zM239.1 76.7h1.35v1.35h-1.35zM230.8 80.7h1.35v1.35h-1.35zM231.7 79.5h1.35v1.35h-1.35zM235.9 76.9h1.35v1.35h-1.35zM221.3 90.5h1.35v1.35h-1.35zM222.1 91.1h1.35v1.35h-1.35zM220.3 89.9h1.35v1.35h-1.35zM218.9 96.7h1.35v1.35h-1.35zM219.7 98.1h1.35v1.35h-1.35zM220.9 99.5h1.35v1.35h-1.35zM222.3 99.9h1.35v1.35h-1.35zM242.5 97.7h1.35v1.35h-1.35zM241.9 98.3h1.35v1.35h-1.35z" fill="#111"/>
<line x1="46.40" y1="160.30" x2="49.60" y2="160.30" stroke="#111" stroke-width="1"/>
<text x="42.1" y="162.6" font-size="6.0" text-anchor="end" style="stroke-width:.12px">10<tspan font-size="2.9" dy="-2.7">5</tspan></text>
<line x1="46.40" y1="181.10" x2="49.60" y2="181.10" stroke="#111" stroke-width="1"/>
<text x="42.1" y="183.4" font-size="6.0" text-anchor="end" style="stroke-width:.12px">10<tspan font-size="2.9" dy="-2.7">4</tspan></text>
<line x1="46.40" y1="202.60" x2="49.60" y2="202.60" stroke="#111" stroke-width="1"/>
<text x="42.1" y="204.9" font-size="6.0" text-anchor="end" style="stroke-width:.12px">10<tspan font-size="2.9" dy="-2.7">3</tspan></text>
<line x1="46.40" y1="224.60" x2="49.60" y2="224.60" stroke="#111" stroke-width="1"/>
<text x="42.1" y="226.9" font-size="6.0" text-anchor="end" style="stroke-width:.12px">10<tspan font-size="2.9" dy="-2.7">2</tspan></text>
<line x1="46.40" y1="233.00" x2="49.60" y2="233.00" stroke="#111" stroke-width="1"/>
<text x="43.4" y="235.3" font-size="6.0" text-anchor="end" style="stroke-width:.12px">0</text>
<line x1="46.40" y1="240.70" x2="49.60" y2="240.70" stroke="#111" stroke-width="1"/>
<text x="42.1" y="243.0" font-size="6.0" text-anchor="end" style="stroke-width:.12px">-10<tspan font-size="2.9" dy="-2.7">2</tspan></text>
<line x1="59.80" y1="243.80" x2="59.80" y2="246.80" stroke="#111" stroke-width="1"/>
<text x="59.8" y="256.0" font-size="6.0" text-anchor="middle" style="stroke-width:.12px">0</text>
<line x1="90.00" y1="243.80" x2="90.00" y2="246.80" stroke="#111" stroke-width="1"/>
<text x="90.3" y="256.0" font-size="6.0" text-anchor="middle" style="stroke-width:.12px">10<tspan font-size="2.9" dy="-2.7">3</tspan></text>
<line x1="111.70" y1="243.80" x2="111.70" y2="246.80" stroke="#111" stroke-width="1"/>
<text x="112.0" y="256.0" font-size="6.0" text-anchor="middle" style="stroke-width:.12px">10<tspan font-size="2.9" dy="-2.7">4</tspan></text>
<line x1="132.80" y1="243.80" x2="132.80" y2="246.80" stroke="#111" stroke-width="1"/>
<text x="133.1" y="256.0" font-size="6.0" text-anchor="middle" style="stroke-width:.12px">10<tspan font-size="2.9" dy="-2.7">5</tspan></text>
<path d="M47.8 174.84h1.8M47.8 171.18h1.8M47.8 168.58h1.8M47.8 166.56h1.8M47.8 164.91h1.8M47.8 163.52h1.8M47.8 162.32h1.8M47.8 161.25h1.8M47.8 196.13h1.8M47.8 192.34h1.8M47.8 189.66h1.8M47.8 187.57h1.8M47.8 185.87h1.8M47.8 184.43h1.8M47.8 183.18h1.8M47.8 182.08h1.8M47.8 217.98h1.8M47.8 214.10h1.8M47.8 211.35h1.8M47.8 209.22h1.8M47.8 207.48h1.8M47.8 206.01h1.8M47.8 204.73h1.8M47.8 203.61h1.8M47.8 154.04h1.8M47.3 226.00h2.3M47.3 227.80h2.3M47.3 229.60h2.3M47.3 231.40h2.3M47.3 233.20h2.3M47.3 235.00h2.3M47.3 236.80h2.3M47.3 238.60h2.3M47.3 240.40h2.3M47.3 242.20h2.3M96.53 243.8v1.8M100.35 243.8v1.8M103.06 243.8v1.8M105.17 243.8v1.8M106.89 243.8v1.8M108.34 243.8v1.8M109.60 243.8v1.8M110.71 243.8v1.8M118.05 243.8v1.8M121.77 243.8v1.8M124.40 243.8v1.8M126.45 243.8v1.8M128.12 243.8v1.8M129.53 243.8v1.8M130.76 243.8v1.8M131.83 243.8v1.8M139.12 243.8v1.8M52.10 243.8v1.8M53.87 243.8v1.8M55.65 243.8v1.8M57.42 243.8v1.8M59.19 243.8v1.8M60.96 243.8v1.8M62.74 243.8v1.8M64.51 243.8v1.8M66.28 243.8v1.8M68.05 243.8v1.8M69.83 243.8v1.8M71.60 243.8v1.8M75.32 243.8v1.5M79.02 243.8v1.5M81.64 243.8v1.5M83.68 243.8v1.5M85.34 243.8v1.5M86.75 243.8v1.5M87.96 243.8v1.5M89.04 243.8v1.5" stroke="#111" stroke-width="0.8" fill="none"/>
<rect x="71.3" y="151.6" width="58.7" height="52.6" fill="none" stroke="#5a5a5a" stroke-width="1"/>
<rect x="49.6" y="151.3" width="92.8" height="92.5" fill="none" stroke="#1a1a1a" stroke-width="1.3"/>
<line x1="141.70" y1="151.90" x2="141.70" y2="243.20" stroke="#4a4a4a" stroke-width="1.2"/>
<text x="52.300000000000004" y="164.60000000000002" font-size="8.0" textLength="14.6" lengthAdjust="spacingAndGlyphs" style="stroke-width:0.15px">0.83</text>
<ellipse cx="107.3" cy="212.1" rx="10.2" ry="8.2" transform="rotate(-15 107.3 212.1)" fill="#111"/>
<path d="M100.0 205.3h1.35v1.35h-1.35zM109.9 200.6h1.35v1.35h-1.35zM112.4 219.1h1.35v1.35h-1.35zM95.8 212.1h1.35v1.35h-1.35zM94.8 208.7h1.35v1.35h-1.35zM112.2 218.3h1.35v1.35h-1.35zM98.1 207.3h1.35v1.35h-1.35zM115.6 209.1h1.35v1.35h-1.35zM117.2 205.8h1.35v1.35h-1.35zM110.1 204.0h1.35v1.35h-1.35zM103.1 203.7h1.35v1.35h-1.35zM104.8 203.6h1.35v1.35h-1.35zM118.9 213.3h1.35v1.35h-1.35zM100.7 219.0h1.35v1.35h-1.35zM100.8 219.4h1.35v1.35h-1.35zM106.3 203.9h1.35v1.35h-1.35zM112.9 216.4h1.35v1.35h-1.35zM111.4 217.5h1.35v1.35h-1.35zM120.6 220.7h1.35v1.35h-1.35zM108.1 203.3h1.35v1.35h-1.35zM97.0 208.4h1.35v1.35h-1.35zM116.9 213.3h1.35v1.35h-1.35zM111.7 202.0h1.35v1.35h-1.35zM115.1 207.7h1.35v1.35h-1.35zM113.6 216.7h1.35v1.35h-1.35zM115.8 208.7h1.35v1.35h-1.35zM107.7 203.3h1.35v1.35h-1.35zM117.0 204.6h1.35v1.35h-1.35zM96.2 214.1h1.35v1.35h-1.35zM100.7 218.1h1.35v1.35h-1.35zM107.3 203.0h1.35v1.35h-1.35zM98.9 206.3h1.35v1.35h-1.35zM96.2 212.6h1.35v1.35h-1.35zM97.4 218.1h1.35v1.35h-1.35zM112.0 220.6h1.35v1.35h-1.35zM114.0 203.2h1.35v1.35h-1.35zM110.5 218.1h1.35v1.35h-1.35zM116.2 204.5h1.35v1.35h-1.35zM102.9 203.7h1.35v1.35h-1.35zM95.9 216.1h1.35v1.35h-1.35zM93.6 214.2h1.35v1.35h-1.35zM117.6 210.9h1.35v1.35h-1.35zM116.8 210.3h1.35v1.35h-1.35zM99.4 216.6h1.35v1.35h-1.35zM96.8 214.1h1.35v1.35h-1.35zM114.8 207.3h1.35v1.35h-1.35zM93.7 214.3h1.35v1.35h-1.35zM100.1 217.5h1.35v1.35h-1.35zM98.6 204.6h1.35v1.35h-1.35zM114.1 215.0h1.35v1.35h-1.35zM92.9 214.1h1.35v1.35h-1.35zM116.8 211.9h1.35v1.35h-1.35zM111.6 219.8h1.35v1.35h-1.35zM114.4 215.5h1.35v1.35h-1.35zM103.7 204.0h1.35v1.35h-1.35zM113.6 216.3h1.35v1.35h-1.35zM110.1 219.1h1.35v1.35h-1.35zM92.2 211.4h1.35v1.35h-1.35zM99.2 216.9h1.35v1.35h-1.35zM97.5 212.2h1.35v1.35h-1.35zM95.5 206.1h1.35v1.35h-1.35zM101.8 204.3h1.35v1.35h-1.35zM97.7 210.9h1.35v1.35h-1.35zM114.6 204.0h1.35v1.35h-1.35zM95.3 209.8h1.35v1.35h-1.35zM98.6 217.2h1.35v1.35h-1.35zM100.4 203.3h1.35v1.35h-1.35zM116.9 209.5h1.35v1.35h-1.35zM105.3 221.0h1.35v1.35h-1.35zM103.0 219.0h1.35v1.35h-1.35zM110.2 219.5h1.35v1.35h-1.35zM113.1 203.7h1.35v1.35h-1.35zM115.5 207.9h1.35v1.35h-1.35zM110.5 204.3h1.35v1.35h-1.35zM96.9 211.4h1.35v1.35h-1.35zM96.2 225.0h1.35v1.35h-1.35zM100.2 204.7h1.35v1.35h-1.35zM97.1 210.8h1.35v1.35h-1.35zM112.2 218.6h1.35v1.35h-1.35zM115.9 208.1h1.35v1.35h-1.35zM111.3 201.9h1.35v1.35h-1.35zM97.3 211.0h1.35v1.35h-1.35zM102.6 218.8h1.35v1.35h-1.35zM103.8 202.2h1.35v1.35h-1.35zM112.2 216.9h1.35v1.35h-1.35zM103.7 204.6h1.35v1.35h-1.35zM98.8 206.7h1.35v1.35h-1.35zM96.3 204.7h1.35v1.35h-1.35zM98.9 216.4h1.35v1.35h-1.35zM118.7 205.3h1.35v1.35h-1.35zM101.1 205.3h1.35v1.35h-1.35zM98.7 207.4h1.35v1.35h-1.35zM98.0 219.7h1.35v1.35h-1.35zM116.3 211.8h1.35v1.35h-1.35zM113.1 216.7h1.35v1.35h-1.35zM95.4 216.4h1.35v1.35h-1.35zM96.2 209.7h1.35v1.35h-1.35zM100.4 217.8h1.35v1.35h-1.35zM96.6 213.5h1.35v1.35h-1.35zM118.0 211.2h1.35v1.35h-1.35zM112.3 203.1h1.35v1.35h-1.35zM103.2 219.5h1.35v1.35h-1.35zM112.5 203.5h1.35v1.35h-1.35zM97.2 211.1h1.35v1.35h-1.35zM103.9 224.6h1.35v1.35h-1.35zM94.0 212.2h1.35v1.35h-1.35zM114.7 220.2h1.35v1.35h-1.35zM109.2 203.4h1.35v1.35h-1.35zM107.9 219.8h1.35v1.35h-1.35zM96.5 212.5h1.35v1.35h-1.35zM113.8 219.0h1.35v1.35h-1.35zM100.0 206.0h1.35v1.35h-1.35zM118.9 205.0h1.35v1.35h-1.35zM116.1 206.7h1.35v1.35h-1.35zM112.8 203.7h1.35v1.35h-1.35zM96.8 207.2h1.35v1.35h-1.35zM94.7 204.5h1.35v1.35h-1.35zM102.6 223.0h1.35v1.35h-1.35zM103.3 220.2h1.35v1.35h-1.35zM97.1 209.2h1.35v1.35h-1.35zM103.2 219.7h1.35v1.35h-1.35zM108.2 220.9h1.35v1.35h-1.35zM97.1 213.5h1.35v1.35h-1.35zM115.7 206.8h1.35v1.35h-1.35zM96.3 223.6h1.35v1.35h-1.35zM105.4 219.7h1.35v1.35h-1.35zM112.6 217.8h1.35v1.35h-1.35zM112.9 205.0h1.35v1.35h-1.35zM113.4 205.1h1.35v1.35h-1.35zM115.0 218.5h1.35v1.35h-1.35zM113.4 220.4h1.35v1.35h-1.35zM115.9 214.0h1.35v1.35h-1.35zM114.9 214.7h1.35v1.35h-1.35zM100.6 204.0h1.35v1.35h-1.35zM107.6 203.4h1.35v1.35h-1.35zM97.6 205.3h1.35v1.35h-1.35zM101.2 223.7h1.35v1.35h-1.35zM115.8 218.5h1.35v1.35h-1.35zM105.9 220.4h1.35v1.35h-1.35zM113.9 205.0h1.35v1.35h-1.35zM114.3 216.5h1.35v1.35h-1.35zM97.9 205.8h1.35v1.35h-1.35zM111.4 202.9h1.35v1.35h-1.35zM102.1 218.3h1.35v1.35h-1.35zM111.7 220.5h1.35v1.35h-1.35zM105.7 203.5h1.35v1.35h-1.35zM100.8 206.2h1.35v1.35h-1.35zM104.5 220.3h1.35v1.35h-1.35zM103.9 219.0h1.35v1.35h-1.35zM95.3 220.0h1.35v1.35h-1.35zM93.9 204.9h1.35v1.35h-1.35zM94.8 218.1h1.35v1.35h-1.35zM106.0 203.9h1.35v1.35h-1.35zM117.7 220.9h1.35v1.35h-1.35zM103.7 204.6h1.35v1.35h-1.35zM102.9 218.7h1.35v1.35h-1.35zM100.2 219.7h1.35v1.35h-1.35zM109.2 203.6h1.35v1.35h-1.35zM115.4 213.8h1.35v1.35h-1.35zM99.2 222.1h1.35v1.35h-1.35zM110.1 203.1h1.35v1.35h-1.35zM107.2 200.7h1.35v1.35h-1.35zM104.2 219.1h1.35v1.35h-1.35zM106.8 219.2h1.35v1.35h-1.35zM116.6 211.6h1.35v1.35h-1.35zM115.8 213.1h1.35v1.35h-1.35zM111.7 217.8h1.35v1.35h-1.35zM110.9 219.6h1.35v1.35h-1.35zM104.3 222.0h1.35v1.35h-1.35zM98.3 207.7h1.35v1.35h-1.35zM116.4 209.0h1.35v1.35h-1.35zM118.6 206.7h1.35v1.35h-1.35zM113.7 202.3h1.35v1.35h-1.35zM115.4 203.6h1.35v1.35h-1.35zM103.7 220.1h1.35v1.35h-1.35zM114.3 215.3h1.35v1.35h-1.35zM106.7 200.3h1.35v1.35h-1.35zM107.0 220.0h1.35v1.35h-1.35zM118.0 207.8h1.35v1.35h-1.35zM109.7 220.4h1.35v1.35h-1.35zM114.2 203.2h1.35v1.35h-1.35zM101.4 218.0h1.35v1.35h-1.35zM93.7 214.3h1.35v1.35h-1.35zM118.1 211.8h1.35v1.35h-1.35zM116.4 210.9h1.35v1.35h-1.35zM109.4 221.2h1.35v1.35h-1.35zM97.8 215.3h1.35v1.35h-1.35zM115.8 208.4h1.35v1.35h-1.35zM97.1 216.6h1.35v1.35h-1.35zM108.7 219.0h1.35v1.35h-1.35zM102.9 202.3h1.35v1.35h-1.35zM115.8 217.8h1.35v1.35h-1.35zM109.0 220.2h1.35v1.35h-1.35zM117.8 212.0h1.35v1.35h-1.35zM101.5 204.2h1.35v1.35h-1.35zM111.7 218.9h1.35v1.35h-1.35zM108.3 219.5h1.35v1.35h-1.35zM103.9 203.0h1.35v1.35h-1.35zM93.5 215.9h1.35v1.35h-1.35zM118.2 202.6h1.35v1.35h-1.35zM98.4 207.1h1.35v1.35h-1.35zM107.1 199.6h1.35v1.35h-1.35zM109.3 201.6h1.35v1.35h-1.35zM113.5 218.6h1.35v1.35h-1.35zM102.5 221.7h1.35v1.35h-1.35zM93.2 216.5h1.35v1.35h-1.35zM111.2 200.1h1.35v1.35h-1.35zM107.8 202.5h1.35v1.35h-1.35zM95.5 219.7h1.35v1.35h-1.35zM104.1 223.4h1.35v1.35h-1.35zM94.5 219.2h1.35v1.35h-1.35zM97.4 210.0h1.35v1.35h-1.35zM115.2 215.1h1.35v1.35h-1.35zM94.5 213.8h1.35v1.35h-1.35zM98.5 206.8h1.35v1.35h-1.35zM99.5 199.0h1.35v1.35h-1.35zM100.7 203.1h1.35v1.35h-1.35zM115.8 211.6h1.35v1.35h-1.35zM97.5 213.4h1.35v1.35h-1.35zM114.3 203.9h1.35v1.35h-1.35zM110.2 202.8h1.35v1.35h-1.35zM97.5 218.2h1.35v1.35h-1.35zM95.7 209.8h1.35v1.35h-1.35zM114.6 216.2h1.35v1.35h-1.35zM100.8 205.2h1.35v1.35h-1.35zM109.8 199.9h1.35v1.35h-1.35zM108.3 198.2h1.35v1.35h-1.35zM114.2 198.5h1.35v1.35h-1.35zM115.4 202.8h1.35v1.35h-1.35zM107.8 193.2h1.35v1.35h-1.35zM110.2 202.6h1.35v1.35h-1.35zM103.5 198.3h1.35v1.35h-1.35zM109.0 201.0h1.35v1.35h-1.35zM110.4 197.9h1.35v1.35h-1.35zM113.5 192.9h1.35v1.35h-1.35zM110.9 203.1h1.35v1.35h-1.35zM110.1 197.5h1.35v1.35h-1.35zM101.1 198.3h1.35v1.35h-1.35zM106.7 203.9h1.35v1.35h-1.35zM110.4 198.4h1.35v1.35h-1.35zM107.0 202.2h1.35v1.35h-1.35zM103.5 204.0h1.35v1.35h-1.35zM106.8 197.0h1.35v1.35h-1.35zM110.3 203.4h1.35v1.35h-1.35zM110.9 198.3h1.35v1.35h-1.35zM109.0 199.8h1.35v1.35h-1.35zM113.0 196.7h1.35v1.35h-1.35zM100.6 200.1h1.35v1.35h-1.35zM105.1 202.1h1.35v1.35h-1.35zM113.8 202.5h1.35v1.35h-1.35zM111.4 199.9h1.35v1.35h-1.35zM109.1 197.3h1.35v1.35h-1.35zM107.5 196.9h1.35v1.35h-1.35zM103.4 195.8h1.35v1.35h-1.35zM107.2 198.1h1.35v1.35h-1.35zM108.0 201.2h1.35v1.35h-1.35zM105.8 197.1h1.35v1.35h-1.35zM112.3 196.8h1.35v1.35h-1.35zM111.3 195.5h1.35v1.35h-1.35zM107.6 201.0h1.35v1.35h-1.35zM111.0 198.2h1.35v1.35h-1.35zM108.3 193.6h1.35v1.35h-1.35zM109.2 202.9h1.35v1.35h-1.35zM107.1 202.7h1.35v1.35h-1.35zM115.4 199.2h1.35v1.35h-1.35zM104.2 197.9h1.35v1.35h-1.35zM108.0 199.0h1.35v1.35h-1.35zM111.4 195.9h1.35v1.35h-1.35zM111.3 202.5h1.35v1.35h-1.35zM103.9 203.8h1.35v1.35h-1.35zM105.8 202.6h1.35v1.35h-1.35zM108.2 199.9h1.35v1.35h-1.35zM106.2 199.9h1.35v1.35h-1.35zM106.6 200.9h1.35v1.35h-1.35zM111.8 162.9h1.35v1.35h-1.35zM111.8 164.1h1.35v1.35h-1.35zM111.8 165.3h1.35v1.35h-1.35zM111.1 168.9h1.35v1.35h-1.35zM112.1 169.5h1.35v1.35h-1.35zM110.5 169.9h1.35v1.35h-1.35zM114.5 171.1h1.35v1.35h-1.35zM103.1 187.1h1.35v1.35h-1.35zM111.5 189.8h1.35v1.35h-1.35zM108.8 192.8h1.35v1.35h-1.35z" fill="#111"/>
<line x1="169.30" y1="160.30" x2="172.50" y2="160.30" stroke="#111" stroke-width="1"/>
<text x="165.0" y="162.6" font-size="6.0" text-anchor="end" style="stroke-width:.12px">10<tspan font-size="2.9" dy="-2.7">5</tspan></text>
<line x1="169.30" y1="181.10" x2="172.50" y2="181.10" stroke="#111" stroke-width="1"/>
<text x="165.0" y="183.4" font-size="6.0" text-anchor="end" style="stroke-width:.12px">10<tspan font-size="2.9" dy="-2.7">4</tspan></text>
<line x1="169.30" y1="202.60" x2="172.50" y2="202.60" stroke="#111" stroke-width="1"/>
<text x="165.0" y="204.9" font-size="6.0" text-anchor="end" style="stroke-width:.12px">10<tspan font-size="2.9" dy="-2.7">3</tspan></text>
<line x1="169.30" y1="224.60" x2="172.50" y2="224.60" stroke="#111" stroke-width="1"/>
<text x="165.0" y="226.9" font-size="6.0" text-anchor="end" style="stroke-width:.12px">10<tspan font-size="2.9" dy="-2.7">2</tspan></text>
<line x1="169.30" y1="233.00" x2="172.50" y2="233.00" stroke="#111" stroke-width="1"/>
<text x="166.3" y="235.3" font-size="6.0" text-anchor="end" style="stroke-width:.12px">0</text>
<line x1="169.30" y1="240.70" x2="172.50" y2="240.70" stroke="#111" stroke-width="1"/>
<text x="165.0" y="243.0" font-size="6.0" text-anchor="end" style="stroke-width:.12px">-10<tspan font-size="2.9" dy="-2.7">2</tspan></text>
<line x1="182.70" y1="243.80" x2="182.70" y2="246.80" stroke="#111" stroke-width="1"/>
<text x="182.7" y="256.0" font-size="6.0" text-anchor="middle" style="stroke-width:.12px">0</text>
<line x1="212.90" y1="243.80" x2="212.90" y2="246.80" stroke="#111" stroke-width="1"/>
<text x="213.2" y="256.0" font-size="6.0" text-anchor="middle" style="stroke-width:.12px">10<tspan font-size="2.9" dy="-2.7">3</tspan></text>
<line x1="234.60" y1="243.80" x2="234.60" y2="246.80" stroke="#111" stroke-width="1"/>
<text x="234.9" y="256.0" font-size="6.0" text-anchor="middle" style="stroke-width:.12px">10<tspan font-size="2.9" dy="-2.7">4</tspan></text>
<line x1="255.70" y1="243.80" x2="255.70" y2="246.80" stroke="#111" stroke-width="1"/>
<text x="256.0" y="256.0" font-size="6.0" text-anchor="middle" style="stroke-width:.12px">10<tspan font-size="2.9" dy="-2.7">5</tspan></text>
<path d="M170.7 174.84h1.8M170.7 171.18h1.8M170.7 168.58h1.8M170.7 166.56h1.8M170.7 164.91h1.8M170.7 163.52h1.8M170.7 162.32h1.8M170.7 161.25h1.8M170.7 196.13h1.8M170.7 192.34h1.8M170.7 189.66h1.8M170.7 187.57h1.8M170.7 185.87h1.8M170.7 184.43h1.8M170.7 183.18h1.8M170.7 182.08h1.8M170.7 217.98h1.8M170.7 214.10h1.8M170.7 211.35h1.8M170.7 209.22h1.8M170.7 207.48h1.8M170.7 206.01h1.8M170.7 204.73h1.8M170.7 203.61h1.8M170.7 154.04h1.8M170.2 226.00h2.3M170.2 227.80h2.3M170.2 229.60h2.3M170.2 231.40h2.3M170.2 233.20h2.3M170.2 235.00h2.3M170.2 236.80h2.3M170.2 238.60h2.3M170.2 240.40h2.3M170.2 242.20h2.3M219.43 243.8v1.8M223.25 243.8v1.8M225.96 243.8v1.8M228.07 243.8v1.8M229.79 243.8v1.8M231.24 243.8v1.8M232.50 243.8v1.8M233.61 243.8v1.8M240.95 243.8v1.8M244.67 243.8v1.8M247.30 243.8v1.8M249.35 243.8v1.8M251.02 243.8v1.8M252.43 243.8v1.8M253.66 243.8v1.8M254.73 243.8v1.8M262.02 243.8v1.8M175.00 243.8v1.8M176.77 243.8v1.8M178.55 243.8v1.8M180.32 243.8v1.8M182.09 243.8v1.8M183.86 243.8v1.8M185.64 243.8v1.8M187.41 243.8v1.8M189.18 243.8v1.8M190.95 243.8v1.8M192.73 243.8v1.8M194.50 243.8v1.8M198.22 243.8v1.5M201.92 243.8v1.5M204.54 243.8v1.5M206.58 243.8v1.5M208.24 243.8v1.5M209.65 243.8v1.5M210.86 243.8v1.5M211.94 243.8v1.5" stroke="#111" stroke-width="0.8" fill="none"/>
<rect x="194.5" y="151.6" width="58.8" height="52.2" fill="none" stroke="#5a5a5a" stroke-width="1"/>
<rect x="172.5" y="151.3" width="92.4" height="92.5" fill="none" stroke="#1a1a1a" stroke-width="1.3"/>
<line x1="264.20" y1="151.90" x2="264.20" y2="243.20" stroke="#4a4a4a" stroke-width="1.2"/>
<text x="175.2" y="164.60000000000002" font-size="8.0" textLength="14.6" lengthAdjust="spacingAndGlyphs" style="stroke-width:0.15px">7.06</text>
<ellipse cx="236.9" cy="208.6" rx="8.0" ry="10.8" transform="rotate(3 236.9 208.6)" fill="#111"/>
<ellipse cx="238.4" cy="196.5" rx="4.6" ry="8.0" transform="rotate(3 238.4 196.5)" fill="#111"/>
<path d="M226.2 199.3h1.35v1.35h-1.35zM244.3 207.7h1.35v1.35h-1.35zM230.3 214.8h1.35v1.35h-1.35zM241.8 201.3h1.35v1.35h-1.35zM235.1 220.0h1.35v1.35h-1.35zM231.6 215.8h1.35v1.35h-1.35zM231.3 198.9h1.35v1.35h-1.35zM242.6 201.9h1.35v1.35h-1.35zM233.4 196.9h1.35v1.35h-1.35zM226.0 203.1h1.35v1.35h-1.35zM241.1 218.7h1.35v1.35h-1.35zM244.3 207.4h1.35v1.35h-1.35zM233.1 197.6h1.35v1.35h-1.35zM231.5 199.2h1.35v1.35h-1.35zM231.8 197.2h1.35v1.35h-1.35zM236.4 217.7h1.35v1.35h-1.35zM231.6 194.5h1.35v1.35h-1.35zM244.2 207.8h1.35v1.35h-1.35zM229.8 216.4h1.35v1.35h-1.35zM230.8 215.4h1.35v1.35h-1.35zM242.8 200.2h1.35v1.35h-1.35zM241.6 198.9h1.35v1.35h-1.35zM230.0 199.8h1.35v1.35h-1.35zM237.7 217.4h1.35v1.35h-1.35zM231.9 199.6h1.35v1.35h-1.35zM238.8 217.1h1.35v1.35h-1.35zM232.4 190.6h1.35v1.35h-1.35zM242.6 202.6h1.35v1.35h-1.35zM226.3 212.3h1.35v1.35h-1.35zM228.8 201.5h1.35v1.35h-1.35zM229.2 200.2h1.35v1.35h-1.35zM243.7 211.0h1.35v1.35h-1.35zM233.3 199.0h1.35v1.35h-1.35zM230.0 216.6h1.35v1.35h-1.35zM238.9 222.5h1.35v1.35h-1.35zM233.5 198.6h1.35v1.35h-1.35zM226.8 203.3h1.35v1.35h-1.35zM228.8 202.7h1.35v1.35h-1.35zM242.6 215.5h1.35v1.35h-1.35zM245.0 205.5h1.35v1.35h-1.35zM245.0 210.8h1.35v1.35h-1.35zM236.6 220.4h1.35v1.35h-1.35zM243.0 211.7h1.35v1.35h-1.35zM235.4 219.0h1.35v1.35h-1.35zM240.4 217.0h1.35v1.35h-1.35zM233.3 198.5h1.35v1.35h-1.35zM243.3 212.7h1.35v1.35h-1.35zM237.3 218.6h1.35v1.35h-1.35zM233.1 193.4h1.35v1.35h-1.35zM233.3 219.0h1.35v1.35h-1.35zM232.6 216.8h1.35v1.35h-1.35zM228.9 207.2h1.35v1.35h-1.35zM228.9 213.0h1.35v1.35h-1.35zM242.6 203.1h1.35v1.35h-1.35zM227.7 207.0h1.35v1.35h-1.35zM228.0 212.6h1.35v1.35h-1.35zM229.6 200.6h1.35v1.35h-1.35zM240.5 216.1h1.35v1.35h-1.35zM241.8 201.2h1.35v1.35h-1.35zM244.7 198.8h1.35v1.35h-1.35zM232.6 194.5h1.35v1.35h-1.35zM243.7 201.6h1.35v1.35h-1.35zM240.3 220.9h1.35v1.35h-1.35zM233.9 217.5h1.35v1.35h-1.35zM243.3 203.1h1.35v1.35h-1.35zM230.3 217.7h1.35v1.35h-1.35zM237.0 223.3h1.35v1.35h-1.35zM234.3 218.4h1.35v1.35h-1.35zM243.1 213.9h1.35v1.35h-1.35zM242.3 215.8h1.35v1.35h-1.35zM229.4 201.1h1.35v1.35h-1.35zM227.6 206.6h1.35v1.35h-1.35zM230.3 196.1h1.35v1.35h-1.35zM238.0 218.8h1.35v1.35h-1.35zM234.4 220.7h1.35v1.35h-1.35zM232.4 195.0h1.35v1.35h-1.35zM228.7 210.7h1.35v1.35h-1.35zM229.2 213.6h1.35v1.35h-1.35zM230.3 201.3h1.35v1.35h-1.35zM239.0 220.0h1.35v1.35h-1.35zM232.8 197.1h1.35v1.35h-1.35zM227.9 214.9h1.35v1.35h-1.35zM232.7 199.0h1.35v1.35h-1.35zM241.4 215.7h1.35v1.35h-1.35zM234.8 218.0h1.35v1.35h-1.35zM231.8 192.4h1.35v1.35h-1.35zM228.1 210.0h1.35v1.35h-1.35zM231.3 198.7h1.35v1.35h-1.35zM238.7 219.5h1.35v1.35h-1.35zM231.2 196.0h1.35v1.35h-1.35zM233.1 217.2h1.35v1.35h-1.35zM244.5 200.9h1.35v1.35h-1.35zM227.5 207.9h1.35v1.35h-1.35zM234.8 220.3h1.35v1.35h-1.35zM243.8 210.2h1.35v1.35h-1.35zM244.4 203.1h1.35v1.35h-1.35zM246.2 200.7h1.35v1.35h-1.35zM244.7 212.7h1.35v1.35h-1.35zM236.6 220.3h1.35v1.35h-1.35zM228.1 217.5h1.35v1.35h-1.35zM242.2 198.9h1.35v1.35h-1.35zM232.4 219.5h1.35v1.35h-1.35zM229.0 213.0h1.35v1.35h-1.35zM229.6 217.5h1.35v1.35h-1.35zM243.4 203.9h1.35v1.35h-1.35zM228.9 208.4h1.35v1.35h-1.35zM236.2 218.1h1.35v1.35h-1.35zM232.9 220.2h1.35v1.35h-1.35zM244.3 205.1h1.35v1.35h-1.35zM231.0 217.0h1.35v1.35h-1.35zM239.3 219.6h1.35v1.35h-1.35zM229.0 207.0h1.35v1.35h-1.35zM228.1 228.0h1.35v1.35h-1.35zM237.8 217.8h1.35v1.35h-1.35zM232.7 197.9h1.35v1.35h-1.35zM229.7 199.7h1.35v1.35h-1.35zM230.2 200.0h1.35v1.35h-1.35zM232.0 197.6h1.35v1.35h-1.35zM226.8 203.0h1.35v1.35h-1.35zM231.8 219.6h1.35v1.35h-1.35zM238.3 220.0h1.35v1.35h-1.35zM242.1 201.4h1.35v1.35h-1.35zM239.2 217.7h1.35v1.35h-1.35zM232.3 196.7h1.35v1.35h-1.35zM233.4 217.9h1.35v1.35h-1.35zM243.0 194.3h1.35v1.35h-1.35zM240.7 216.2h1.35v1.35h-1.35zM238.7 219.5h1.35v1.35h-1.35zM240.1 217.3h1.35v1.35h-1.35zM230.8 200.6h1.35v1.35h-1.35zM242.5 214.0h1.35v1.35h-1.35zM239.7 224.3h1.35v1.35h-1.35zM243.7 215.4h1.35v1.35h-1.35zM229.6 213.8h1.35v1.35h-1.35zM240.2 216.7h1.35v1.35h-1.35zM233.5 193.0h1.35v1.35h-1.35zM242.0 199.6h1.35v1.35h-1.35zM229.1 206.4h1.35v1.35h-1.35zM243.8 202.2h1.35v1.35h-1.35zM228.0 209.8h1.35v1.35h-1.35zM230.5 215.4h1.35v1.35h-1.35zM231.1 195.0h1.35v1.35h-1.35zM245.8 203.6h1.35v1.35h-1.35zM246.6 214.5h1.35v1.35h-1.35zM231.8 194.0h1.35v1.35h-1.35zM232.3 217.2h1.35v1.35h-1.35zM239.3 217.0h1.35v1.35h-1.35zM232.4 198.8h1.35v1.35h-1.35zM235.0 217.9h1.35v1.35h-1.35zM242.9 200.9h1.35v1.35h-1.35zM230.8 215.7h1.35v1.35h-1.35zM243.4 202.0h1.35v1.35h-1.35zM228.6 211.9h1.35v1.35h-1.35zM247.4 208.0h1.35v1.35h-1.35zM228.0 204.7h1.35v1.35h-1.35zM231.6 198.4h1.35v1.35h-1.35zM239.4 218.3h1.35v1.35h-1.35zM229.6 214.8h1.35v1.35h-1.35zM228.8 207.8h1.35v1.35h-1.35zM246.0 210.6h1.35v1.35h-1.35zM243.4 211.6h1.35v1.35h-1.35zM239.2 217.4h1.35v1.35h-1.35zM229.8 199.2h1.35v1.35h-1.35zM234.6 221.0h1.35v1.35h-1.35zM243.6 209.5h1.35v1.35h-1.35zM228.1 206.4h1.35v1.35h-1.35zM232.1 190.2h1.35v1.35h-1.35zM242.9 211.6h1.35v1.35h-1.35zM246.3 206.0h1.35v1.35h-1.35zM239.2 217.9h1.35v1.35h-1.35zM239.8 216.7h1.35v1.35h-1.35zM228.4 206.3h1.35v1.35h-1.35zM231.6 223.0h1.35v1.35h-1.35zM243.4 204.6h1.35v1.35h-1.35zM243.2 199.6h1.35v1.35h-1.35zM227.6 207.7h1.35v1.35h-1.35zM229.0 205.3h1.35v1.35h-1.35zM233.1 219.8h1.35v1.35h-1.35zM239.4 217.0h1.35v1.35h-1.35zM243.0 197.3h1.35v1.35h-1.35zM230.8 198.6h1.35v1.35h-1.35zM242.5 199.8h1.35v1.35h-1.35zM233.1 194.1h1.35v1.35h-1.35zM231.0 193.2h1.35v1.35h-1.35zM233.0 194.5h1.35v1.35h-1.35zM230.4 202.2h1.35v1.35h-1.35zM227.9 218.9h1.35v1.35h-1.35zM235.3 189.8h1.35v1.35h-1.35zM239.0 187.9h1.35v1.35h-1.35zM238.7 182.8h1.35v1.35h-1.35zM243.3 185.1h1.35v1.35h-1.35zM242.5 202.3h1.35v1.35h-1.35zM240.6 189.7h1.35v1.35h-1.35zM239.2 186.1h1.35v1.35h-1.35zM238.1 187.1h1.35v1.35h-1.35zM239.3 186.6h1.35v1.35h-1.35zM242.5 192.4h1.35v1.35h-1.35zM237.7 188.4h1.35v1.35h-1.35zM236.4 188.0h1.35v1.35h-1.35zM240.9 190.8h1.35v1.35h-1.35zM240.2 186.9h1.35v1.35h-1.35zM240.8 190.1h1.35v1.35h-1.35zM236.9 187.5h1.35v1.35h-1.35zM232.2 190.4h1.35v1.35h-1.35zM238.9 187.3h1.35v1.35h-1.35zM244.1 193.3h1.35v1.35h-1.35zM237.1 186.3h1.35v1.35h-1.35zM238.6 186.6h1.35v1.35h-1.35zM236.8 188.0h1.35v1.35h-1.35zM236.9 185.8h1.35v1.35h-1.35zM236.7 184.8h1.35v1.35h-1.35zM241.5 190.4h1.35v1.35h-1.35zM242.2 198.3h1.35v1.35h-1.35zM237.8 180.3h1.35v1.35h-1.35zM238.0 179.3h1.35v1.35h-1.35zM239.9 180.5h1.35v1.35h-1.35zM238.1 170.1h1.35v1.35h-1.35zM240.5 188.1h1.35v1.35h-1.35zM242.0 186.7h1.35v1.35h-1.35zM242.4 181.6h1.35v1.35h-1.35zM240.3 181.2h1.35v1.35h-1.35zM241.2 180.3h1.35v1.35h-1.35zM238.2 179.5h1.35v1.35h-1.35zM239.8 177.8h1.35v1.35h-1.35zM240.5 169.8h1.35v1.35h-1.35zM238.4 172.2h1.35v1.35h-1.35zM239.0 173.9h1.35v1.35h-1.35zM238.1 188.4h1.35v1.35h-1.35zM239.0 183.1h1.35v1.35h-1.35zM237.5 188.8h1.35v1.35h-1.35zM240.3 188.5h1.35v1.35h-1.35zM237.4 187.9h1.35v1.35h-1.35zM237.5 188.6h1.35v1.35h-1.35zM239.4 173.9h1.35v1.35h-1.35zM236.9 188.8h1.35v1.35h-1.35zM241.2 187.7h1.35v1.35h-1.35zM237.8 183.0h1.35v1.35h-1.35zM240.1 172.8h1.35v1.35h-1.35zM238.9 174.9h1.35v1.35h-1.35zM239.8 183.5h1.35v1.35h-1.35zM238.5 180.9h1.35v1.35h-1.35zM241.0 178.8h1.35v1.35h-1.35zM239.7 174.8h1.35v1.35h-1.35zM237.9 185.1h1.35v1.35h-1.35zM239.1 167.5h1.35v1.35h-1.35zM239.5 188.9h1.35v1.35h-1.35zM235.2 188.0h1.35v1.35h-1.35zM239.9 165.3h1.35v1.35h-1.35zM240.5 165.7h1.35v1.35h-1.35zM239.5 166.1h1.35v1.35h-1.35zM240.3 166.5h1.35v1.35h-1.35zM239.7 164.7h1.35v1.35h-1.35zM240.9 165.1h1.35v1.35h-1.35zM236.3 166.7h1.35v1.35h-1.35zM235.7 167.3h1.35v1.35h-1.35zM237.3 172.3h1.35v1.35h-1.35zM234.8 171.7h1.35v1.35h-1.35zM234.3 172.1h1.35v1.35h-1.35zM230.9 178.9h1.35v1.35h-1.35zM231.5 179.3h1.35v1.35h-1.35zM241.9 169.1h1.35v1.35h-1.35zM242.9 169.7h1.35v1.35h-1.35zM238.5 168.3h1.35v1.35h-1.35zM240.3 174.7h1.35v1.35h-1.35zM241.1 175.3h1.35v1.35h-1.35zM236.3 181.3h1.35v1.35h-1.35zM239.9 183.9h1.35v1.35h-1.35zM241.9 183.3h1.35v1.35h-1.35z" fill="#111"/>
<text x="276.1" y="80.4" font-size="8.2" text-anchor="middle" textLength="11.2" lengthAdjust="spacingAndGlyphs" transform="rotate(-90 276.1 80.4)">HD</text>
<text x="276.1" y="197.2" font-size="8.2" text-anchor="middle" textLength="14.6" lengthAdjust="spacingAndGlyphs" transform="rotate(-90 276.1 197.2)">SCD</text>
<line x1="22.30" y1="228.50" x2="22.30" y2="113.00" stroke="#222" stroke-width="1.1"/>
<path d="M22.3 106.6 L26.4 116.2 L22.3 113.8 L18.2 116.2 Z" fill="#111"/>
<text x="25.2" y="105.2" font-size="8.4" textLength="16.2" lengthAdjust="spacingAndGlyphs" transform="rotate(-90 25.2 105.2)">GPA</text>
<line x1="53.60" y1="266.00" x2="203.00" y2="266.00" stroke="#555" stroke-width="1.4"/>
<path d="M209.6 266 L200.8 262.5 L203.2 266 L200.8 269.5 Z" fill="#111"/>
<text x="212.7" y="268.9" font-size="8.2" textLength="20.6" lengthAdjust="spacingAndGlyphs">CD45</text>
<text x="294.1" y="18.3" font-size="11.7" textLength="7.2" lengthAdjust="spacingAndGlyphs">B</text>
<text x="315.0" y="75.2" font-size="9.8" text-anchor="middle" textLength="80.5" lengthAdjust="spacingAndGlyphs" transform="rotate(-90 315.0 75.2)">% GPA<tspan font-size="6.6" dy="-3.0">+</tspan><tspan dy="3.0"> monocyte</tspan></text>
<line x1="336.90" y1="33.60" x2="336.90" y2="116.55" stroke="#3a3a3a" stroke-width="1.6"/>
<line x1="336.30" y1="115.95" x2="500.60" y2="115.95" stroke="#333" stroke-width="1.5"/>
<line x1="333.30" y1="115.95" x2="336.90" y2="115.95" stroke="#333" stroke-width="1.1"/>
<text x="330.59999999999997" y="118.95" font-size="8.9" text-anchor="end" textLength="4.4" lengthAdjust="spacingAndGlyphs" style="stroke-width:0.15px">0</text>
<line x1="333.30" y1="96.25" x2="336.90" y2="96.25" stroke="#333" stroke-width="1.1"/>
<text x="330.59999999999997" y="99.25" font-size="8.9" text-anchor="end" textLength="4.4" lengthAdjust="spacingAndGlyphs" style="stroke-width:0.15px">5</text>
<line x1="333.30" y1="76.55" x2="336.90" y2="76.55" stroke="#333" stroke-width="1.1"/>
<text x="330.59999999999997" y="79.55000000000001" font-size="8.9" text-anchor="end" textLength="8.6" lengthAdjust="spacingAndGlyphs" style="stroke-width:0.15px">10</text>
<line x1="333.30" y1="56.85" x2="336.90" y2="56.85" stroke="#333" stroke-width="1.1"/>
<text x="330.59999999999997" y="59.85" font-size="8.9" text-anchor="end" textLength="8.6" lengthAdjust="spacingAndGlyphs" style="stroke-width:0.15px">15</text>
<line x1="333.30" y1="37.15" x2="336.90" y2="37.15" stroke="#333" stroke-width="1.1"/>
<text x="330.59999999999997" y="40.150000000000006" font-size="8.9" text-anchor="end" textLength="8.6" lengthAdjust="spacingAndGlyphs" style="stroke-width:0.15px">20</text>
<line x1="350.50" y1="115.95" x2="350.50" y2="119.35" stroke="#333" stroke-width="1.1"/>
<line x1="377.80" y1="115.95" x2="377.80" y2="119.35" stroke="#333" stroke-width="1.1"/>
<line x1="405.10" y1="115.95" x2="405.10" y2="119.35" stroke="#333" stroke-width="1.1"/>
<line x1="432.40" y1="115.95" x2="432.40" y2="119.35" stroke="#333" stroke-width="1.1"/>
<line x1="459.70" y1="115.95" x2="459.70" y2="119.35" stroke="#333" stroke-width="1.1"/>
<line x1="487.00" y1="115.95" x2="487.00" y2="119.35" stroke="#333" stroke-width="1.1"/>
<path d="M340.7 109.2h5.8l-2.9 5.2zM343.3 110.2h5.8l-2.9 5.2zM345.7 110.8h5.8l-2.9 5.2zM347.7 111.2h5.8l-2.9 5.2zM349.7 110.8h5.8l-2.9 5.2zM352.1 110.2h5.8l-2.9 5.2zM354.7 109.2h5.8l-2.9 5.2zM347.7 110.0h5.8l-2.9 5.2zM342.1 108.8h5.8l-2.9 5.2zM353.3 108.8h5.8l-2.9 5.2z" fill="#3c5e8c"/>
<path d="M341.2 109L347.3 110.3L350.8 111L355.1 110L360.3 109L358.6 113.4L356.2 115.8H344.6L342.6 113Z" fill="#3c5e8c"/>
<line x1="369.10" y1="95.50" x2="387.10" y2="95.50" stroke="#9e1f37" stroke-width="1.1"/>
<line x1="377.80" y1="86.80" x2="377.80" y2="104.00" stroke="#9e1f37" stroke-width="0.9"/>
<line x1="374.20" y1="86.80" x2="381.50" y2="86.80" stroke="#9e1f37" stroke-width="0.9"/>
<line x1="374.20" y1="104.00" x2="381.50" y2="104.00" stroke="#9e1f37" stroke-width="0.9"/>
<circle cx="380.3" cy="78.9" r="2.05" fill="#9e1f37"/>
<circle cx="375.6" cy="81.8" r="2.05" fill="#9e1f37"/>
<circle cx="372.6" cy="86.4" r="2.05" fill="#9e1f37"/>
<circle cx="383" cy="85.9" r="2.05" fill="#9e1f37"/>
<circle cx="377.8" cy="89.9" r="2.05" fill="#9e1f37"/>
<circle cx="372.8" cy="91.7" r="2.05" fill="#9e1f37"/>
<circle cx="383" cy="93" r="2.05" fill="#9e1f37"/>
<circle cx="377.8" cy="96.1" r="2.05" fill="#9e1f37"/>
<circle cx="371" cy="97.6" r="2.05" fill="#9e1f37"/>
<circle cx="375.7" cy="100.4" r="2.05" fill="#9e1f37"/>
<circle cx="384.6" cy="99.8" r="2.05" fill="#9e1f37"/>
<circle cx="380.3" cy="101.7" r="2.05" fill="#9e1f37"/>
<circle cx="371.6" cy="102.5" r="2.05" fill="#9e1f37"/>
<circle cx="375" cy="103.3" r="2.05" fill="#9e1f37"/>
<circle cx="384.3" cy="102.9" r="2.05" fill="#9e1f37"/>
<circle cx="381.2" cy="104.8" r="2.05" fill="#9e1f37"/>
<circle cx="377.8" cy="107" r="2.05" fill="#9e1f37"/>
<line x1="396.20" y1="66.80" x2="413.90" y2="66.80" stroke="#5f9f45" stroke-width="1.1"/>
<line x1="405.00" y1="55.90" x2="405.00" y2="77.40" stroke="#8dbf78" stroke-width="0.9"/>
<line x1="401.40" y1="55.90" x2="408.80" y2="55.90" stroke="#8dbf78" stroke-width="0.9"/>
<line x1="401.40" y1="77.40" x2="408.80" y2="77.40" stroke="#8dbf78" stroke-width="0.9"/>
<rect x="402.95" y="44.75" width="4.1" height="4.1" fill="#5f9f45"/>
<rect x="402.95" y="52.65" width="4.1" height="4.1" fill="#5f9f45"/>
<rect x="400.45" y="55.95" width="4.1" height="4.1" fill="#5f9f45"/>
<rect x="405.05" y="59.85" width="4.1" height="4.1" fill="#5f9f45"/>
<rect x="395.95" y="66.35" width="4.1" height="4.1" fill="#5f9f45"/>
<rect x="409.95" y="66.15" width="4.1" height="4.1" fill="#5f9f45"/>
<rect x="405.05" y="68.25" width="4.1" height="4.1" fill="#5f9f45"/>
<rect x="401.15" y="70.15" width="4.1" height="4.1" fill="#5f9f45"/>
<rect x="401.15" y="72.95" width="4.1" height="4.1" fill="#5f9f45"/>
<rect x="405.05" y="76.75" width="4.1" height="4.1" fill="#5f9f45"/>
<rect x="402.95" y="81.85" width="4.1" height="4.1" fill="#5f9f45"/>
<circle cx="425.2" cy="113.8" r="2.0" fill="#c3277f"/>
<circle cx="427.4" cy="114.8" r="2.0" fill="#c3277f"/>
<circle cx="429.6" cy="115.4" r="2.0" fill="#c3277f"/>
<circle cx="431.8" cy="115.7" r="2.0" fill="#c3277f"/>
<circle cx="434" cy="115.6" r="2.0" fill="#c3277f"/>
<circle cx="436.2" cy="115.2" r="2.0" fill="#c3277f"/>
<circle cx="438.4" cy="114.4" r="2.0" fill="#c3277f"/>
<circle cx="432.4" cy="115.2" r="2.0" fill="#c3277f"/>
<rect x="450.60" y="108.20" width="4.2" height="4.2" fill="#d9912f"/>
<rect x="452.50" y="110.10" width="4.2" height="4.2" fill="#d9912f"/>
<rect x="455.10" y="111.10" width="4.2" height="4.2" fill="#d9912f"/>
<rect x="457.60" y="111.40" width="4.2" height="4.2" fill="#d9912f"/>
<rect x="460.10" y="111.10" width="4.2" height="4.2" fill="#d9912f"/>
<rect x="462.50" y="110.10" width="4.2" height="4.2" fill="#d9912f"/>
<rect x="463.90" y="108.20" width="4.2" height="4.2" fill="#d9912f"/>
<rect x="457.60" y="110.70" width="4.2" height="4.2" fill="#d9912f"/>
<path d="M478 104.6H487.4L488 102.5H494L495 110Q494.4 112.6 491.6 113.8Q486.4 115.2 480.8 113.8Q478.2 112.6 477.7 110Z" fill="#3f7a60" stroke="#3f7a60" stroke-width="0.8" stroke-linejoin="round"/>
<path d="M353.2 75.4V71.4H380.5V75.4" fill="none" stroke="#222" stroke-width="1"/>
<path d="M378.5 42.2V38.2H405.7V42.2" fill="none" stroke="#222" stroke-width="1"/>
<path d="M376.9 32.1V28.1H455.7V32.1" fill="none" stroke="#222" stroke-width="1"/>
<text x="366.8" y="69.6" font-size="7.5" text-anchor="middle" textLength="9.2" lengthAdjust="spacingAndGlyphs">***</text>
<text x="392.4" y="36.4" font-size="7.5" text-anchor="middle" textLength="6.0" lengthAdjust="spacingAndGlyphs">**</text>
<text x="416.0" y="27.6" font-size="7.5" text-anchor="middle" textLength="6.0" lengthAdjust="spacingAndGlyphs">**</text>
<text x="353.6" y="128.5" font-size="8.2" text-anchor="middle" textLength="11.4" lengthAdjust="spacingAndGlyphs" transform="rotate(-90 353.6 128.5)">HD</text>
<text x="435.5" y="128.5" font-size="8.2" text-anchor="middle" textLength="11.4" lengthAdjust="spacingAndGlyphs" transform="rotate(-90 435.5 128.5)">HD</text>
<text x="375.40000000000003" y="142.0" font-size="8.2" text-anchor="middle" textLength="24.2" lengthAdjust="spacingAndGlyphs" transform="rotate(-90 375.40000000000003 142.0)">Steady</text>
<text x="385.6" y="142.0" font-size="8.2" text-anchor="middle" textLength="33.6" lengthAdjust="spacingAndGlyphs" transform="rotate(-90 385.6 142.0)">state SCD</text>
<text x="457.3" y="142.0" font-size="8.2" text-anchor="middle" textLength="24.2" lengthAdjust="spacingAndGlyphs" transform="rotate(-90 457.3 142.0)">Steady</text>
<text x="467.5" y="142.0" font-size="8.2" text-anchor="middle" textLength="33.6" lengthAdjust="spacingAndGlyphs" transform="rotate(-90 467.5 142.0)">state SCD</text>
<text x="402.0" y="142.0" font-size="8.2" text-anchor="middle" textLength="19.9" lengthAdjust="spacingAndGlyphs" transform="rotate(-90 402.0 142.0)">Acute</text>
<text x="412.3" y="142.0" font-size="8.2" text-anchor="middle" textLength="33.6" lengthAdjust="spacingAndGlyphs" transform="rotate(-90 412.3 142.0)">crisis SCD</text>
<text x="483.9" y="142.0" font-size="8.2" text-anchor="middle" textLength="19.9" lengthAdjust="spacingAndGlyphs" transform="rotate(-90 483.9 142.0)">Acute</text>
<text x="494.2" y="142.0" font-size="8.2" text-anchor="middle" textLength="33.6" lengthAdjust="spacingAndGlyphs" transform="rotate(-90 494.2 142.0)">crisis SCD</text>
<line x1="358.20" y1="165.30" x2="424.00" y2="165.30" stroke="#2a2a2a" stroke-width="1.3"/>
<line x1="438.50" y1="165.30" x2="503.80" y2="165.30" stroke="#2a2a2a" stroke-width="1.3"/>
<text x="390.9" y="176.2" font-size="8.4" text-anchor="middle" textLength="16.4" lengthAdjust="spacingAndGlyphs">PMo</text>
<text x="470.8" y="176.2" font-size="8.4" text-anchor="middle" textLength="17.0" lengthAdjust="spacingAndGlyphs">CMo</text>
<text x="7.6" y="298.2" font-size="11.7" textLength="7.8" lengthAdjust="spacingAndGlyphs">C</text>
<text x="37.3" y="308.8" font-size="8.2" text-anchor="middle" textLength="8.2" lengthAdjust="spacingAndGlyphs">BF</text>
<text x="84.9" y="308.8" font-size="8.2" text-anchor="middle" textLength="18.8" lengthAdjust="spacingAndGlyphs">CD45</text>
<text x="135.3" y="308.8" font-size="8.2" text-anchor="middle" textLength="15.6" lengthAdjust="spacingAndGlyphs">GPA</text>
<text x="185.6" y="308.8" font-size="8.2" text-anchor="middle" textLength="24.4" lengthAdjust="spacingAndGlyphs">Merge</text>
<defs>
<radialGradient id="gr"><stop offset="0" stop-color="#24b452"/><stop offset="0.5" stop-color="#1d9a45"/><stop offset="1" stop-color="#1a7a38" stop-opacity="0"/></radialGradient>
<radialGradient id="grs"><stop offset="0" stop-color="#25b854"/><stop offset="0.6" stop-color="#1d9a45"/><stop offset="1" stop-color="#187a38" stop-opacity="0"/></radialGradient>
<radialGradient id="mg"><stop offset="0" stop-color="#3a1230" stop-opacity="0.7"/><stop offset="0.5" stop-color="#6a1a50" stop-opacity="0.85"/><stop offset="0.8" stop-color="#b02682"/><stop offset="0.9" stop-color="#b82a88" stop-opacity="0.9"/><stop offset="1" stop-color="#b02682" stop-opacity="0"/></radialGradient>
<radialGradient id="mgf"><stop offset="0" stop-color="#b0287f"/><stop offset="0.8" stop-color="#c02a8c"/><stop offset="1" stop-color="#c02a8c" stop-opacity="0"/></radialGradient>
<radialGradient id="bf"><stop offset="0" stop-color="#b4b4b4"/><stop offset="0.7" stop-color="#a8a8a8"/><stop offset="0.84" stop-color="#cfcfcf"/><stop offset="0.93" stop-color="#8c8c8c"/><stop offset="1" stop-color="#a3a3a3" stop-opacity="0"/></radialGradient>
</defs>
<rect x="16.2" y="314" width="192.4" height="160.8" fill="#454545"/>
<rect x="16.2" y="372.4" width="192.4" height="4.2" fill="#4c4c48"/>
<rect x="16.2" y="314" width="48.0" height="160.8" fill="#343432"/>
<rect x="16.2" y="372.4" width="48.0" height="4.2" fill="#3e3e3a"/>
<rect x="16.2" y="314.0" width="48.0" height="29.8" fill="#a5a4a4"/>
<rect x="64.2" y="314.0" width="144.4" height="29.8" fill="#1b1b1b"/>
<rect x="16.2" y="344.8" width="48.0" height="27.6" fill="#a5a4a4"/>
<rect x="64.2" y="344.8" width="144.4" height="27.6" fill="#1b1b1b"/>
<rect x="16.2" y="376.6" width="48.0" height="29.8" fill="#a5a4a4"/>
<rect x="64.2" y="376.6" width="144.4" height="29.8" fill="#1b1b1b"/>
<rect x="16.2" y="408.4" width="48.0" height="24.3" fill="#a5a4a4"/>
<rect x="64.2" y="408.4" width="144.4" height="24.3" fill="#1b1b1b"/>
<rect x="16.2" y="434.8" width="48.0" height="40.0" fill="#a5a4a4"/>
<rect x="64.2" y="434.8" width="144.4" height="40.0" fill="#1b1b1b"/>
<filter id="bl3" x="-30%" y="-30%" width="160%" height="160%"><feGaussianBlur stdDeviation="0.45"/></filter>
<g filter="url(#bl3)" fill="none">
<circle cx="39.8" cy="329.8" r="8.2" fill="#a9a9a9" stroke="#929292" stroke-width="0.8"/>
<circle cx="39.8" cy="329.8" r="6.9" stroke="#bcbcbc" stroke-width="1.3"/>
<circle cx="39.5" cy="330.0" r="3.9" stroke="#c4c4c4" stroke-width="1.3" stroke-dasharray="3.4 1.2"/>
<circle cx="39.5" cy="330.0" r="2.1" stroke="#8e8e8e" stroke-width="0.7"/>
<circle cx="40.2" cy="360.2" r="6.8" fill="#a9a9a9" stroke="#929292" stroke-width="0.8"/>
<circle cx="40.2" cy="360.2" r="5.5" stroke="#bcbcbc" stroke-width="1.3"/>
<circle cx="39.900000000000006" cy="360.4" r="3.3" stroke="#c4c4c4" stroke-width="1.3" stroke-dasharray="3.4 1.2"/>
<circle cx="39.900000000000006" cy="360.4" r="1.8" stroke="#8e8e8e" stroke-width="0.7"/>
<circle cx="41" cy="391.6" r="8.6" fill="#a9a9a9" stroke="#929292" stroke-width="0.8"/>
<circle cx="41" cy="391.6" r="7.3" stroke="#bcbcbc" stroke-width="1.3"/>
<circle cx="40.7" cy="391.8" r="4.1" stroke="#c4c4c4" stroke-width="1.3" stroke-dasharray="3.4 1.2"/>
<circle cx="40.7" cy="391.8" r="2.2" stroke="#8e8e8e" stroke-width="0.7"/>
<circle cx="41" cy="420.6" r="6.8" fill="#a9a9a9" stroke="#929292" stroke-width="0.8"/>
<circle cx="41" cy="420.6" r="5.5" stroke="#bcbcbc" stroke-width="1.3"/>
<circle cx="40.7" cy="420.8" r="3.3" stroke="#c4c4c4" stroke-width="1.3" stroke-dasharray="3.4 1.2"/>
<circle cx="40.7" cy="420.8" r="1.8" stroke="#8e8e8e" stroke-width="0.7"/>
<circle cx="41.3" cy="448.2" r="4.3" stroke="#aeaeae" stroke-width="0.8"/>
<ellipse cx="40.2" cy="460" rx="7.6" ry="8.2" fill="#a8a8a8" stroke="#b6b6b6" stroke-width="1"/>
<ellipse cx="38.8" cy="459.4" rx="3.6" ry="5.2" stroke="#5e5e5e" stroke-width="1.1" transform="rotate(12 38.8 459.4)"/>
<ellipse cx="39.4" cy="459.8" rx="1.6" ry="2.8" stroke="#7a7a7a" stroke-width="0.7" transform="rotate(12 38.8 459.4)"/>
</g>
<text x="17.2" y="318.4" font-size="4.2" textLength="9.3" lengthAdjust="spacingAndGlyphs" style="fill:#444;stroke:#444;stroke-width:0.1px">1029</text>
<text x="17.2" y="349.2" font-size="4.2" textLength="9.3" lengthAdjust="spacingAndGlyphs" style="fill:#444;stroke:#444;stroke-width:0.1px">4790</text>
<text x="17.2" y="381.0" font-size="4.2" textLength="9.3" lengthAdjust="spacingAndGlyphs" style="fill:#444;stroke:#444;stroke-width:0.1px">7661</text>
<text x="17.2" y="412.79999999999995" font-size="4.2" textLength="11.6" lengthAdjust="spacingAndGlyphs" style="fill:#444;stroke:#444;stroke-width:0.1px">13632</text>
<text x="17.2" y="439.2" font-size="4.2" textLength="14.0" lengthAdjust="spacingAndGlyphs" style="fill:#444;stroke:#444;stroke-width:0.1px">105503</text>
<line x1="18.30" y1="471.90" x2="28.20" y2="471.90" stroke="#f4f4f4" stroke-width="1.5" stroke-dasharray="2.1 0.5"/>
<text x="28.4" y="473.4" font-size="4.2" textLength="7.6" lengthAdjust="spacingAndGlyphs" style="fill:#ededed;stroke:#ededed;stroke-width:0.1px">7µm</text>
<filter id="bl" x="-30%" y="-30%" width="160%" height="160%"><feGaussianBlur stdDeviation="0.85"/></filter>
<filter id="bl2" x="-30%" y="-30%" width="160%" height="160%"><feGaussianBlur stdDeviation="0.5"/></filter>
<ellipse cx="87.4" cy="329.4" rx="6.6" ry="6.6" fill="#7a2260" fill-opacity="0.75" stroke="#a92c7e" stroke-width="1.9" filter="url(#bl)"/>
<g filter="url(#bl2)"><path d="M81.0 359.2q1.5 -3.4 6 -4.2q4 -0.6 6.2 0.2" fill="none" stroke="#93296c" stroke-width="1.7" stroke-linecap="round"/>
<path d="M88.4 366.0q4.6 -1.6 6.2 -4.6" fill="none" stroke="#8e2468" stroke-width="1.3" stroke-linecap="round"/></g>
<ellipse cx="87.8" cy="392.4" rx="7.0" ry="7.0" fill="#7a2260" fill-opacity="0.3" stroke="#a92c7e" stroke-width="1.9" filter="url(#bl)"/>
<ellipse cx="88.7" cy="420.4" rx="6.2" ry="6.2" fill="#7a2260" fill-opacity="0.55" stroke="#a92c7e" stroke-width="1.9" filter="url(#bl)"/>
<ellipse cx="87.6" cy="459.7" rx="6.6" ry="6.6" fill="#7a2260" fill-opacity="0.95" stroke="#a92c7e" stroke-width="1.9" filter="url(#bl)"/>
<ellipse cx="133.8" cy="329.2" rx="2.9" ry="4.2" fill="url(#grs)" transform="rotate(-20 133.8 329.2)"/>
<ellipse cx="133.8" cy="360.4" rx="2.9" ry="2.9" fill="url(#grs)" transform="rotate(0 133.8 360.4)"/>
<ellipse cx="136.6" cy="392.6" rx="2.4" ry="2.4" fill="url(#grs)" transform="rotate(0 136.6 392.6)"/>
<ellipse cx="133.8" cy="394.8" rx="2.0" ry="2.0" fill="url(#grs)" transform="rotate(0 133.8 394.8)"/>
<ellipse cx="134.4" cy="389.6" rx="1.6" ry="1.6" fill="url(#grs)" transform="rotate(0 134.4 389.6)"/>
<ellipse cx="136.9" cy="422.0" rx="5.0" ry="4.6" fill="url(#grs)" transform="rotate(-25 136.9 422.0)"/>
<ellipse cx="138" cy="448.4" rx="8.4" ry="8.4" fill="url(#gr)" transform="rotate(0 138 448.4)"/>
<ellipse cx="183.5" cy="329.4" rx="6.8" ry="6.8" fill="#7a2260" fill-opacity="0.3" stroke="#a92c7e" stroke-width="1.9" filter="url(#bl)"/>
<ellipse cx="183.0" cy="329.0" rx="3.2" ry="4.6" fill="url(#grs)" transform="rotate(-20 183.0 329.0)"/>
<g filter="url(#bl2)"><path d="M176.2 359.0q1.5 -3.4 6 -4.2q4 -0.6 6.2 0.2" fill="none" stroke="#93296c" stroke-width="1.7" stroke-linecap="round"/>
<path d="M183.6 365.8q4.6 -1.6 6.2 -4.6" fill="none" stroke="#8e2468" stroke-width="1.3" stroke-linecap="round"/></g>
<ellipse cx="182.2" cy="360.6" rx="2.9" ry="2.9" fill="url(#grs)" transform="rotate(0 182.2 360.6)"/>
<ellipse cx="183.5" cy="392.2" rx="7.0" ry="7.0" fill="#7a2260" fill-opacity="0.25" stroke="#a92c7e" stroke-width="1.9" filter="url(#bl)"/>
<ellipse cx="186.0" cy="392.8" rx="2.4" ry="2.4" fill="url(#grs)" transform="rotate(0 186.0 392.8)"/>
<ellipse cx="183.2" cy="395.0" rx="2.0" ry="2.0" fill="url(#grs)" transform="rotate(0 183.2 395.0)"/>
<ellipse cx="183.8" cy="389.8" rx="1.6" ry="1.6" fill="url(#grs)" transform="rotate(0 183.8 389.8)"/>
<ellipse cx="184.5" cy="420.4" rx="6.3" ry="6.3" fill="#7a2260" fill-opacity="0.4" stroke="#a92c7e" stroke-width="1.9" filter="url(#bl)"/>
<ellipse cx="185.2" cy="422.4" rx="5.0" ry="4.6" fill="url(#grs)" transform="rotate(-25 185.2 422.4)"/>
<ellipse cx="186.6" cy="448.4" rx="8.4" ry="8.4" fill="url(#gr)" transform="rotate(0 186.6 448.4)"/>
<ellipse cx="184.1" cy="460.4" rx="6.8" ry="6.8" fill="#7a2260" fill-opacity="0.9" stroke="#a92c7e" stroke-width="1.9" filter="url(#bl)"/>
<text x="225.2" y="297.8" font-size="11.7" textLength="8.6" lengthAdjust="spacingAndGlyphs">D</text>
<path d="M266.2 395.7L266.2 395.7C267.3 395.6 271.3 395.5 272.9 395.4C274.5 395.3 274.7 394.9 275.6 394.9C276.5 394.9 277.5 395.4 278.3 395.4C279.0 395.4 279.6 395.1 280.2 394.9C280.7 394.7 281.1 394.3 281.8 394.3C282.4 394.3 283.2 394.6 283.9 394.9C284.7 395.1 284.8 395.5 286.3 395.7C287.9 395.8 291.7 395.8 293.1 395.7C294.4 395.6 293.5 395.7 294.4 395.1C295.3 394.6 297.1 393.3 298.5 392.5C299.8 391.6 301.1 391.0 302.5 389.8C303.8 388.5 305.3 387.3 306.5 385.2C307.7 383.1 308.8 380.0 309.8 377.1C310.7 374.2 311.6 369.8 312.5 367.7C313.3 365.6 313.9 364.8 314.6 364.5C315.3 364.1 315.8 364.5 316.5 365.5C317.2 366.6 317.7 369.3 318.6 370.9C319.6 372.5 321.0 374.6 322.1 375.2C323.3 375.8 324.4 375.1 325.4 374.7C326.4 374.2 327.2 372.8 328.1 372.5C329.0 372.3 329.9 373.7 330.8 373.1C331.7 372.5 332.6 370.9 333.5 369.0C334.3 367.1 335.3 363.3 336.1 361.8C337.0 360.2 337.6 359.7 338.3 359.6C339.0 359.5 339.4 360.0 340.2 361.0C340.9 361.9 342.0 364.3 342.9 365.5C343.8 366.7 344.7 366.5 345.6 368.2C346.5 369.9 347.4 373.2 348.3 375.8C349.2 378.4 350.1 381.4 350.9 383.8C351.8 386.3 352.7 388.9 353.6 390.6C354.5 392.3 355.4 393.3 356.3 394.1C357.2 394.9 358.0 395.2 359.0 395.4C360.1 395.6 361.6 395.5 362.5 395.4C363.4 395.3 363.7 394.9 364.4 394.9C365.1 394.9 365.9 395.3 366.6 395.4C367.2 395.6 368.1 395.7 368.4 395.8L368.4 395.7Z" fill="#42597f"/>
<rect x="266.2" y="302.5" width="107.1" height="93.5" fill="none" stroke="#1a1a1a" stroke-width="1.2"/>
<line x1="262.80" y1="395.70" x2="266.20" y2="395.70" stroke="#222" stroke-width="0.9"/>
<text x="260.59999999999997" y="398.09999999999997" font-size="6.6" text-anchor="end" textLength="3.4" lengthAdjust="spacingAndGlyphs" style="stroke-width:0.08px">0</text>
<line x1="262.80" y1="378.36" x2="266.20" y2="378.36" stroke="#222" stroke-width="0.9"/>
<text x="260.59999999999997" y="380.76" font-size="6.6" text-anchor="end" textLength="8.6" lengthAdjust="spacingAndGlyphs" style="stroke-width:0.08px">0.3</text>
<line x1="262.80" y1="361.02" x2="266.20" y2="361.02" stroke="#222" stroke-width="0.9"/>
<text x="260.59999999999997" y="363.41999999999996" font-size="6.6" text-anchor="end" textLength="8.6" lengthAdjust="spacingAndGlyphs" style="stroke-width:0.08px">0.6</text>
<line x1="262.80" y1="343.68" x2="266.20" y2="343.68" stroke="#222" stroke-width="0.9"/>
<text x="260.59999999999997" y="346.08" font-size="6.6" text-anchor="end" textLength="8.6" lengthAdjust="spacingAndGlyphs" style="stroke-width:0.08px">0.9</text>
<line x1="262.80" y1="326.34" x2="266.20" y2="326.34" stroke="#222" stroke-width="0.9"/>
<text x="260.59999999999997" y="328.73999999999995" font-size="6.6" text-anchor="end" textLength="8.6" lengthAdjust="spacingAndGlyphs" style="stroke-width:0.08px">1.2</text>
<line x1="262.80" y1="309.00" x2="266.20" y2="309.00" stroke="#222" stroke-width="0.9"/>
<text x="260.59999999999997" y="311.4" font-size="6.6" text-anchor="end" textLength="8.6" lengthAdjust="spacingAndGlyphs" style="stroke-width:0.08px">1.5</text>
<line x1="275.56" y1="396.00" x2="275.56" y2="399.20" stroke="#222" stroke-width="0.9"/>
<text x="274.76" y="408.2" font-size="6.6" text-anchor="middle" textLength="5.6" lengthAdjust="spacingAndGlyphs" style="stroke-width:0.08px">-4</text>
<line x1="292.68" y1="396.00" x2="292.68" y2="399.20" stroke="#222" stroke-width="0.9"/>
<text x="291.88" y="408.2" font-size="6.6" text-anchor="middle" textLength="5.6" lengthAdjust="spacingAndGlyphs" style="stroke-width:0.08px">-2</text>
<line x1="309.80" y1="396.00" x2="309.80" y2="399.20" stroke="#222" stroke-width="0.9"/>
<text x="309.8" y="408.2" font-size="6.6" text-anchor="middle" textLength="3.5" lengthAdjust="spacingAndGlyphs" style="stroke-width:0.08px">0</text>
<line x1="326.92" y1="396.00" x2="326.92" y2="399.20" stroke="#222" stroke-width="0.9"/>
<text x="326.92" y="408.2" font-size="6.6" text-anchor="middle" textLength="3.5" lengthAdjust="spacingAndGlyphs" style="stroke-width:0.08px">2</text>
<line x1="344.04" y1="396.00" x2="344.04" y2="399.20" stroke="#222" stroke-width="0.9"/>
<text x="344.04" y="408.2" font-size="6.6" text-anchor="middle" textLength="3.5" lengthAdjust="spacingAndGlyphs" style="stroke-width:0.08px">4</text>
<line x1="361.16" y1="396.00" x2="361.16" y2="399.20" stroke="#222" stroke-width="0.9"/>
<text x="361.16" y="408.2" font-size="6.6" text-anchor="middle" textLength="3.5" lengthAdjust="spacingAndGlyphs" style="stroke-width:0.08px">6</text>
<line x1="309.80" y1="349.60" x2="365.80" y2="349.60" stroke="#98a5cd" stroke-width="1.6"/>
<text x="337.4" y="342.2" font-size="6.8" text-anchor="middle" textLength="25.4" lengthAdjust="spacingAndGlyphs" style="fill:#7d8cbc;stroke:#7d8cbc">R8 91%</text>
<text x="319.3" y="421.6" font-size="9.4" text-anchor="middle" textLength="84.8" lengthAdjust="spacingAndGlyphs">Internalizaion index</text>
<text x="243.7" y="349.9" font-size="9.4" text-anchor="middle" textLength="96.2" lengthAdjust="spacingAndGlyphs" transform="rotate(-90 243.7 349.9)">Normalized frequency</text>
<text x="389.4" y="297.9" font-size="11.7" textLength="6.2" lengthAdjust="spacingAndGlyphs">E</text>
<text x="406.6" y="350.8" font-size="9.8" text-anchor="middle" textLength="87.6" lengthAdjust="spacingAndGlyphs" transform="rotate(-90 406.6 350.8)">% PMo in monocyte</text>
<line x1="428.20" y1="309.00" x2="428.20" y2="392.00" stroke="#3a3a3a" stroke-width="1.6"/>
<line x1="427.60" y1="391.40" x2="513.40" y2="391.40" stroke="#333" stroke-width="1.5"/>
<line x1="424.60" y1="391.40" x2="428.20" y2="391.40" stroke="#333" stroke-width="1.1"/>
<text x="421.9" y="394.4" font-size="8.9" text-anchor="end" textLength="4.4" lengthAdjust="spacingAndGlyphs" style="stroke-width:0.15px">0</text>
<line x1="424.60" y1="371.75" x2="428.20" y2="371.75" stroke="#333" stroke-width="1.1"/>
<text x="421.9" y="374.75" font-size="8.9" text-anchor="end" textLength="4.4" lengthAdjust="spacingAndGlyphs" style="stroke-width:0.15px">5</text>
<line x1="424.60" y1="352.10" x2="428.20" y2="352.10" stroke="#333" stroke-width="1.1"/>
<text x="421.9" y="355.09999999999997" font-size="8.9" text-anchor="end" textLength="8.6" lengthAdjust="spacingAndGlyphs" style="stroke-width:0.15px">10</text>
<line x1="424.60" y1="332.45" x2="428.20" y2="332.45" stroke="#333" stroke-width="1.1"/>
<text x="421.9" y="335.45" font-size="8.9" text-anchor="end" textLength="8.6" lengthAdjust="spacingAndGlyphs" style="stroke-width:0.15px">15</text>
<line x1="424.60" y1="312.80" x2="428.20" y2="312.80" stroke="#333" stroke-width="1.1"/>
<text x="421.9" y="315.79999999999995" font-size="8.9" text-anchor="end" textLength="8.6" lengthAdjust="spacingAndGlyphs" style="stroke-width:0.15px">20</text>
<line x1="442.00" y1="391.40" x2="442.00" y2="394.80" stroke="#333" stroke-width="1.1"/>
<line x1="469.50" y1="391.40" x2="469.50" y2="394.80" stroke="#333" stroke-width="1.1"/>
<line x1="497.40" y1="391.40" x2="497.40" y2="394.80" stroke="#333" stroke-width="1.1"/>
<line x1="442.00" y1="342.80" x2="442.00" y2="367.90" stroke="#3c5e8c" stroke-width="0.9"/>
<line x1="437.40" y1="342.80" x2="446.40" y2="342.80" stroke="#3c5e8c" stroke-width="0.9"/>
<line x1="437.40" y1="367.90" x2="446.40" y2="367.90" stroke="#3c5e8c" stroke-width="0.9"/>
<line x1="432.20" y1="355.40" x2="451.90" y2="355.40" stroke="#3c5e8c" stroke-width="1.1"/>
<path d="M438.9 322.6h6.2l-3.1 5.6zM438.9 372.3h6.2l-3.1 5.6zM432.2 353.7h6.2l-3.1 5.6zM436.0 352.2h6.2l-3.1 5.6zM441.6 351.2h6.2l-3.1 5.6zM446.3 350.2h6.2l-3.1 5.6zM434.3 356.4h6.2l-3.1 5.6zM444.7 355.3h6.2l-3.1 5.6zM439.5 357.4h6.2l-3.1 5.6zM440.9 360.5h6.2l-3.1 5.6z" fill="#3c5e8c"/>
<line x1="469.50" y1="359.60" x2="469.50" y2="381.10" stroke="#9e1f37" stroke-width="0.9"/>
<line x1="465.30" y1="359.60" x2="474.00" y2="359.60" stroke="#9e1f37" stroke-width="0.9"/>
<line x1="465.30" y1="381.10" x2="474.00" y2="381.10" stroke="#9e1f37" stroke-width="0.9"/>
<line x1="459.80" y1="369.90" x2="479.20" y2="369.90" stroke="#9e1f37" stroke-width="1.1"/>
<circle cx="469.5" cy="344.9" r="2.05" fill="#9e1f37"/>
<circle cx="469.5" cy="352.8" r="2.05" fill="#9e1f37"/>
<circle cx="472.2" cy="356.3" r="2.05" fill="#9e1f37"/>
<circle cx="467.4" cy="360.4" r="2.05" fill="#9e1f37"/>
<circle cx="477.1" cy="367.2" r="2.05" fill="#9e1f37"/>
<circle cx="461.2" cy="368.9" r="2.05" fill="#9e1f37"/>
<circle cx="473.6" cy="370.3" r="2.05" fill="#9e1f37"/>
<circle cx="465.3" cy="371" r="2.05" fill="#9e1f37"/>
<circle cx="469.5" cy="371.4" r="2.05" fill="#9e1f37"/>
<circle cx="462.2" cy="372.4" r="2.05" fill="#9e1f37"/>
<circle cx="476.7" cy="372.8" r="2.05" fill="#9e1f37"/>
<circle cx="466.4" cy="374.9" r="2.05" fill="#9e1f37"/>
<circle cx="472.2" cy="375.5" r="2.05" fill="#9e1f37"/>
<circle cx="469.5" cy="378.2" r="2.05" fill="#9e1f37"/>
<circle cx="466.4" cy="380.7" r="2.05" fill="#9e1f37"/>
<circle cx="472.2" cy="382.8" r="2.05" fill="#9e1f37"/>
<circle cx="469.5" cy="389.4" r="2.05" fill="#9e1f37"/>
<line x1="497.40" y1="376.10" x2="497.40" y2="387.00" stroke="#8dbf78" stroke-width="0.9"/>
<line x1="493.40" y1="376.10" x2="501.60" y2="376.10" stroke="#8dbf78" stroke-width="0.9"/>
<line x1="488.10" y1="382.30" x2="506.70" y2="382.30" stroke="#5f9f45" stroke-width="1.1"/>
<rect x="495.35" y="364.55" width="4.1" height="4.1" fill="#5f9f45"/>
<rect x="502.65" y="376.15" width="4.1" height="4.1" fill="#5f9f45"/>
<rect x="493.25" y="377.65" width="4.1" height="4.1" fill="#5f9f45"/>
<rect x="497.85" y="379.05" width="4.1" height="4.1" fill="#5f9f45"/>
<rect x="489.15" y="381.75" width="4.1" height="4.1" fill="#5f9f45"/>
<rect x="493.25" y="382.75" width="4.1" height="4.1" fill="#5f9f45"/>
<rect x="502.65" y="381.75" width="4.1" height="4.1" fill="#5f9f45"/>
<rect x="498.45" y="383.15" width="4.1" height="4.1" fill="#5f9f45"/>
<rect x="495.35" y="386.55" width="4.1" height="4.1" fill="#5f9f45"/>
<rect x="500.55" y="383.85" width="4.1" height="4.1" fill="#5f9f45"/>
<rect x="491.25" y="383.85" width="4.1" height="4.1" fill="#5f9f45"/>
<path d="M468.4 314V310H501.8V314" fill="none" stroke="#222" stroke-width="1.1"/>
<text x="485.0" y="308.0" font-size="7.5" text-anchor="middle" textLength="6.0" lengthAdjust="spacingAndGlyphs">**</text>
<text x="468.9" y="324.8" font-size="7.5" text-anchor="middle" textLength="6.0" lengthAdjust="spacingAndGlyphs">**</text>
<text x="444.9" y="403.3" font-size="8.2" text-anchor="middle" textLength="11.4" lengthAdjust="spacingAndGlyphs" transform="rotate(-90 444.9 403.3)">HD</text>
<text x="467.4" y="417.2" font-size="8.2" text-anchor="middle" textLength="24.4" lengthAdjust="spacingAndGlyphs" transform="rotate(-90 467.4 417.2)">Steady</text>
<text x="477.5" y="417.0" font-size="8.2" text-anchor="middle" textLength="34.4" lengthAdjust="spacingAndGlyphs" transform="rotate(-90 477.5 417.0)">state SCD</text>
<text x="494.7" y="417.2" font-size="8.2" text-anchor="middle" textLength="20.4" lengthAdjust="spacingAndGlyphs" transform="rotate(-90 494.7 417.2)">Acute</text>
<text x="505.29999999999995" y="417.0" font-size="8.2" text-anchor="middle" textLength="34.4" lengthAdjust="spacingAndGlyphs" transform="rotate(-90 505.29999999999995 417.0)">crisis SCD</text>
<path d="M0.6 483V0.6H520" fill="none" stroke="#4f4f4f" stroke-width="1.6"/>
<path d="M519.5 0V482.3H0" fill="none" stroke="#222" stroke-width="1.2"/>
</svg>
</body></html>
